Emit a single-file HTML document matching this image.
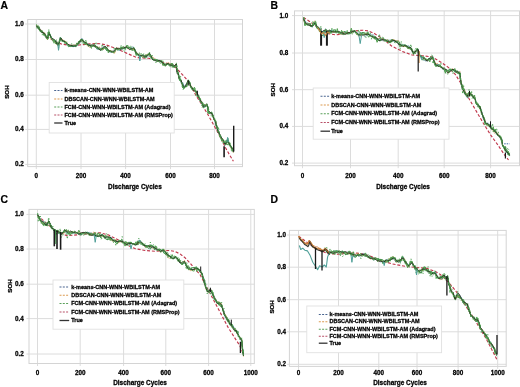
<!DOCTYPE html><html><head><meta charset="utf-8"><style>html,body{margin:0;padding:0;background:#fff;width:520px;height:387px;overflow:hidden}svg{display:block;will-change:transform;filter:blur(0.35px)}</style></head><body>
<svg width="520" height="387" viewBox="0 0 520 387" style="font-family:'Liberation Sans', sans-serif;font-weight:bold">
<rect width="520" height="387" fill="#fff"/>
<g id="pA"><line x1="36.3" y1="19.5" x2="36.3" y2="169.1" stroke="#dcdcdc" stroke-width="1"/><text x="36.3" y="177.9" font-size="6.3" text-anchor="middle" fill="#000" stroke="#000" stroke-width="0.26">0</text><line x1="81" y1="19.5" x2="81" y2="169.1" stroke="#dcdcdc" stroke-width="1"/><text x="81" y="177.9" font-size="6.3" text-anchor="middle" fill="#000" stroke="#000" stroke-width="0.26">200</text><line x1="125.6" y1="19.5" x2="125.6" y2="169.1" stroke="#dcdcdc" stroke-width="1"/><text x="125.6" y="177.9" font-size="6.3" text-anchor="middle" fill="#000" stroke="#000" stroke-width="0.26">400</text><line x1="170.5" y1="19.5" x2="170.5" y2="169.1" stroke="#dcdcdc" stroke-width="1"/><text x="170.5" y="177.9" font-size="6.3" text-anchor="middle" fill="#000" stroke="#000" stroke-width="0.26">600</text><line x1="214.5" y1="19.5" x2="214.5" y2="169.1" stroke="#dcdcdc" stroke-width="1"/><text x="214.5" y="177.9" font-size="6.3" text-anchor="middle" fill="#000" stroke="#000" stroke-width="0.26">800</text><line x1="25.2" y1="24" x2="242.5" y2="24" stroke="#dcdcdc" stroke-width="1"/><text x="23.8" y="25.9" font-size="6.3" text-anchor="end" fill="#000" stroke="#000" stroke-width="0.26">1.0</text><line x1="25.2" y1="59.5" x2="242.5" y2="59.5" stroke="#dcdcdc" stroke-width="1"/><text x="23.8" y="61.4" font-size="6.3" text-anchor="end" fill="#000" stroke="#000" stroke-width="0.26">0.8</text><line x1="25.2" y1="95.2" x2="242.5" y2="95.2" stroke="#dcdcdc" stroke-width="1"/><text x="23.8" y="97.1" font-size="6.3" text-anchor="end" fill="#000" stroke="#000" stroke-width="0.26">0.6</text><line x1="25.2" y1="129.4" x2="242.5" y2="129.4" stroke="#dcdcdc" stroke-width="1"/><text x="23.8" y="131.3" font-size="6.3" text-anchor="end" fill="#000" stroke="#000" stroke-width="0.26">0.4</text><line x1="25.2" y1="164.4" x2="242.5" y2="164.4" stroke="#dcdcdc" stroke-width="1"/><text x="23.8" y="166.3" font-size="6.3" text-anchor="end" fill="#000" stroke="#000" stroke-width="0.26">0.2</text><rect x="27.7" y="19.5" width="214.8" height="147.1" fill="none" stroke="#d4d4d4" stroke-width="1"/><path d="M36.5,25.8 L42,31.5 L48,37 L55,41.5 L62,44.2 L69,45.2 L76,45.3 L83,44.6 L90,43.9 L95,43.6 L100,43.8 L105.8,44.8 L115.2,48.2 L126,52.9 L136.7,57.6 L148.8,58.3 L156.9,60.3 L165,63 L172.1,64.4 L176.8,68.5 L182.9,75.2 L187.2,80 L191.5,87.5 L196,95.4 L201.5,104.2 L207,113 L212.5,122.8 L218,132.7 L222,140.5 L225.7,148.1 L229.5,154.8 L233.4,161.3" fill="none" stroke="#c0384c" stroke-width="1.15" stroke-linejoin="round" stroke-linecap="butt" stroke-dasharray="3,1.8"/><path d="M36.5,25.2 L37.2,26.8 L38,28 L38.7,28.1 L39.4,28.5 L40.2,29.8 L41.1,31.8 L41.9,32.1 L42.8,32.1 L43.7,32.9 L44.6,34.5 L45.5,36.8 L46.2,37.8 L46.8,38.4 L47.5,38.5 L47.8,38.1 L48,36.9 L48.3,35.5 L48.5,32.6 L48.8,31.6 L49.3,33.2 L49.8,34.6 L50.4,35.6 L50.9,36.7 L51.5,38 L52.2,39.4 L52.9,40.1 L53.5,39.8 L54.4,40.6 L55.3,40.8 L56.2,42.5 L56.9,42.4 L57.6,43.9 L58.3,44.5 L58.6,44.3 L58.9,44.8 L59.2,44 L59.4,43.3 L59.7,40.1 L60,38.9 L60.3,37.8 L61,39 L61.8,40 L62.5,40.5 L63.8,40.7 L65,41.4 L66,42.1 L67,44.6 L68,45 L69,46.6 L70,45.8 L71,46.6 L72,46.2 L73.3,46.5 L74.5,45.9 L75.8,46.6 L76.7,45.5 L77.6,44.7 L78.5,42.9 L79.3,42.1 L80.2,41.4 L81,41.7 L81.8,40.3 L82.7,41.2 L83.5,41.5 L84.3,42.7 L85.2,43.4 L86.1,43.9 L87.1,44.2 L88,44.3 L89.3,44.7 L90.6,45.9 L91.5,46.4 L92.4,46.3 L93.3,45.9 L94.2,46.3 L95.1,46.9 L96,47.3 L96.9,47.9 L97.8,49 L98.6,49.3 L99.5,49.3 L100.4,49.9 L101.3,49.7 L102.3,49.9 L103.2,48.9 L104.2,47.7 L105.1,47.8 L105.9,49.1 L106.7,50.5 L107.5,50.5 L108.3,50.6 L109.1,50.9 L110.3,50.7 L111.4,51.1 L112.6,52.2 L113.8,52.8 L114.5,51.8 L115.2,51 L115.8,49.4 L116.5,48.8 L117.7,48.9 L118.8,49.3 L120,48.2 L121.2,47.4 L122.3,47.3 L123.4,47.9 L124.4,48.7 L125.5,47.7 L126.6,47.1 L127.6,47.1 L128.6,48 L129.7,47.4 L130.7,48 L131.8,48.9 L132.9,50.3 L134,49.3 L134.4,48.9 L134.9,49.5 L135.3,52 L135.8,53.4 L136.2,54.2 L136.7,54.7 L138.1,55 L139.4,56.5 L140.5,55.7 L141.6,55.7 L142.6,55.5 L143.7,56.7 L144.8,57.5 L146,57 L147.2,55.1 L148.3,54.2 L149.5,53.4 L150.2,54.8 L150.9,56.2 L151.5,57.2 L152.2,58.6 L152.9,59.1 L154,59.6 L155.1,59.7 L156.1,60.3 L157.2,61.2 L158.3,61.4 L159.5,61.6 L160.8,61 L162,62.5 L162.8,63.9 L163.7,65.1 L164.6,64.8 L165.4,64.2 L166.7,63.8 L168,63.6 L169.1,65.3 L170.3,65.5 L171.4,65.2 L172.3,63.7 L173.2,64.9 L174.1,66 L175.1,65.7 L176.2,64.5 L176.4,64.7 L176.5,68.1 L176.7,69.5 L176.9,71.6 L177,70.9 L177.2,70.4 L177.5,71.1 L177.9,71.5 L178.2,73.9 L178.5,74 L178.8,75.3 L179.2,76.7 L179.5,79.5 L180,80.4 L180.6,80.2 L181.1,80.9 L181.7,82.9 L182.2,84.2 L182.7,84.5 L183.2,84.8 L183.7,85.8 L184.2,86.8 L184.9,86.7 L185.6,86.5 L186.2,86.8 L186.9,85.1 L187.4,83.9 L187.8,81.5 L188.3,80.6 L188.8,81 L189.4,81.6 L189.9,83 L190.5,85.2 L191,87.4 L191.7,88.6 L192.3,88.9 L193,89.1 L193.7,89.4 L194.3,89.9 L195,90.6 L195.7,90.8 L196.3,91.3 L197,92.9 L197.7,94.8 L198.3,96.3 L198.8,98 L199.4,99 L199.9,100.5 L200.5,101.4 L201,101.9 L201.5,101.7 L202.1,102.4 L202.6,103.4 L203.1,105.9 L203.6,106.6 L204.7,107 L205.8,106.3 L206.9,104.7 L207.2,105.6 L207.5,106 L207.8,107.6 L208,108.2 L208.3,109.9 L208.6,111.7 L208.9,113.4 L209.8,113 L210.6,113 L211.5,112.1 L212.3,113.5 L212.7,114.9 L213.2,116.6 L213.6,117.7 L214,118.5 L214.4,120.2 L214.8,120.6 L215.3,121.1 L215.7,121.2 L215.9,123.4 L216.2,125.3 L216.4,126.7 L216.7,127 L216.9,127.6 L217.2,128.8 L217.6,129.7 L218.1,130.7 L218.5,131.2 L219,131.9 L219.4,133.8 L219.9,135.5 L220.3,136.8 L220.8,136.9 L221.2,137.6 L221.7,138.7 L222.3,139.5 L222.9,140.5 L223.4,141.4 L224,142.3 L224.6,142.8 L225.2,143.2 L225.8,142 L226.4,141.8 L227,140.1 L227.6,139.5 L228.1,139.7 L228.5,141.5 L229,142.6 L229.4,144.3 L229.9,145.6 L230.4,146.4 L230.9,146.5 L231.4,147.3 L231.9,148.7 L232.4,149.8 L232.9,150.2 L233.4,150.3" fill="none" stroke="#3f8f48" stroke-width="1.1" stroke-linejoin="round" stroke-linecap="butt"/><path d="M36.5,25 L37.2,26 L38,27.4 L38.7,28.6 L39.4,29.7 L40.2,30.6 L41.1,31.8 L41.9,32.4 L42.8,32.8 L43.7,32.2 L44.6,33.1 L45.5,34.9 L46.2,36.9 L46.8,38.5 L47.5,40 L47.8,39.3 L48,37.9 L48.3,36.5 L48.5,34.9 L48.8,33.2 L49.3,34.1 L49.8,34.9 L50.4,36.1 L50.9,37.7 L51.5,38.9 L52.2,39.5 L52.9,39.4 L53.5,40.9 L54.4,42 L55.3,43.3 L56.2,43.5 L56.9,44.8 L57.6,45.6 L58.3,46 L58.6,44.5 L58.9,43 L59.2,42 L59.4,41.6 L59.7,41.3 L60,40 L60.3,38.8 L61,38.4 L61.8,39.1 L62.5,39.5 L63.8,40.6 L65,41.4 L66,41.4 L67,43.1 L68,44.1 L69,45.9 L70,45.7 L71,45.7 L72,45.4 L73.3,45.2 L74.5,45.6 L75.8,45.7 L76.7,45 L77.6,44.1 L78.5,43 L79.3,42.6 L80.2,41.7 L81,40.8 L81.8,39.4 L82.7,40.2 L83.5,42 L84.3,42 L85.2,43.3 L86.1,44 L87.1,45.6 L88,46.1 L89.3,47 L90.6,47.6 L91.5,46.7 L92.4,45 L93.3,44.5 L94.2,45.6 L95.1,46.9 L96,47.3 L96.9,47.7 L97.8,47 L98.6,47.7 L99.5,46.8 L100.4,48.7 L101.3,48.5 L102.3,50 L103.2,49.1 L104.2,48.3 L105.1,46.8 L105.9,46.8 L106.7,47.8 L107.5,48.6 L108.3,50.5 L109.1,50.5 L110.3,50.8 L111.4,51 L112.6,52.3 L113.8,52.7 L114.5,53.4 L115.2,51.7 L115.8,50.5 L116.5,47.9 L117.7,47.9 L118.8,48.9 L120,49.4 L121.2,49.3 L122.3,48.2 L123.4,48.1 L124.4,47.6 L125.5,47.2 L126.6,46.2 L127.6,48.4 L128.6,49.1 L129.7,49.5 L130.7,48.6 L131.8,49.1 L132.9,48.9 L134,50 L134.4,49.3 L134.9,50.3 L135.3,50 L135.8,51.3 L136.2,52.2 L136.7,53.6 L138.1,54.2 L139.4,54.3 L140.5,54.9 L141.6,56.1 L142.6,56.8 L143.7,56.5 L144.8,54.9 L146,55.4 L147.2,54.3 L148.3,54.9 L149.5,55.1 L150.2,55.9 L150.9,57 L151.5,56.3 L152.2,56.8 L152.9,57 L154,58.1 L155.1,58.8 L156.1,59.5 L157.2,60.1 L158.3,61.1 L159.5,61.2 L160.8,62.1 L162,62.7 L162.8,64.6 L163.7,64.1 L164.6,65.5 L165.4,64.8 L166.7,64 L168,62.4 L169.1,63 L170.3,64.1 L171.4,64.1 L172.3,65.3 L173.2,66.5 L174.1,67.1 L175.1,65.5 L176.2,64 L176.4,65.7 L176.5,67.8 L176.7,68.8 L176.9,69 L177,69.6 L177.2,71.2 L177.5,72.4 L177.9,74.1 L178.2,74.8 L178.5,76.3 L178.8,76.5 L179.2,78.1 L179.5,79 L180,79.7 L180.6,80.5 L181.1,81.3 L181.7,83.6 L182.2,84.4 L182.7,85.3 L183.2,85.9 L183.7,86.6 L184.2,87.5 L184.9,86.4 L185.6,86 L186.2,85.4 L186.9,84.3 L187.4,82.8 L187.8,82.1 L188.3,81.4 L188.8,83.1 L189.4,83.9 L189.9,85.8 L190.5,85.5 L191,86.3 L191.7,86.4 L192.3,88.5 L193,88.7 L193.7,88.7 L194.3,89.2 L195,91.3 L195.7,93.4 L196.3,93.7 L197,94.3 L197.7,95.4 L198.3,97.1 L198.8,97.6 L199.4,97.7 L199.9,98.1 L200.5,100.2 L201,101.3 L201.5,102.7 L202.1,102.7 L202.6,103.7 L203.1,104.4 L203.6,105.3 L204.7,104.9 L205.8,104.7 L206.9,104.9 L207.2,106.1 L207.5,107.8 L207.8,108.6 L208,109.7 L208.3,110.4 L208.6,111.1 L208.9,112.5 L209.8,112.8 L210.6,113.2 L211.5,113.9 L212.3,115.1 L212.7,116.5 L213.2,117.3 L213.6,118.4 L214,119.9 L214.4,119.8 L214.8,120.4 L215.3,120.5 L215.7,121.7 L215.9,122.3 L216.2,123.5 L216.4,125 L216.7,126 L216.9,127.7 L217.2,128.6 L217.6,129.8 L218.1,130.8 L218.5,132.2 L219,133.9 L219.4,134.7 L219.9,136.1 L220.3,136.8 L220.8,138.4 L221.2,137.9 L221.7,138.1 L222.3,139.1 L222.9,140.6 L223.4,142.2 L224,143.2 L224.6,143.6 L225.2,144.6 L225.8,143.9 L226.4,143.9 L227,142.7 L227.6,141 L228.1,141.6 L228.5,142.9 L229,144.2 L229.4,145 L229.9,145.8 L230.4,146.3 L230.9,147.7 L231.4,148.7 L231.9,149 L232.4,150.1 L232.9,151 L233.4,152.9" fill="none" stroke="#d08a40" stroke-width="0.7" stroke-linejoin="round" stroke-linecap="butt" stroke-opacity="0.85"/><path d="M36.5,26.8 L37.2,27 L38,27.1 L38.7,27.4 L39.4,29 L40.2,30.9 L41.1,31.9 L41.9,32.4 L42.8,32.8 L43.7,33.1 L44.6,34 L45.5,35 L46.2,36.7 L46.8,38 L47.5,38.5 L47.8,37.2 L48,35.8 L48.3,35.8 L48.5,35 L48.8,34.1 L49.3,33.9 L49.8,34.5 L50.4,34.6 L50.9,37.3 L51.5,37.4 L52.2,38.9 L52.9,39.8 L53.5,40.1 L54.4,41.2 L55.3,40.8 L56.2,42.3 L56.9,42.8 L57.6,44.6 L58.3,45.6 L58.6,45 L58.9,44 L59.2,42.2 L59.4,41.7 L59.7,40.2 L60,39.2 L60.3,37.1 L61,38.4 L61.8,40.3 L62.5,41 L63.8,41.3 L65,41.6 L66,43.5 L67,44.5 L68,45.7 L69,45.7 L70,45.6 L71,45.6 L72,46.5 L73.3,46.7 L74.5,46.5 L75.8,46.1 L76.7,45.6 L77.6,45 L78.5,44.2 L79.3,43.4 L80.2,41.8 L81,40.5 L81.8,38.1 L82.7,39.3 L83.5,40.5 L84.3,42.7 L85.2,42.4 L86.1,42.9 L87.1,43.1 L88,43.8 L89.3,45.1 L90.6,46.6 L91.5,46.2 L92.4,45.2 L93.3,44.8 L94.2,45.6 L95.1,46.6 L96,47.3 L96.9,49.4 L97.8,48.9 L98.6,48.2 L99.5,48 L100.4,49.8 L101.3,49.2 L102.3,48.2 L103.2,46.6 L104.2,47.1 L105.1,46.7 L105.9,48.3 L106.7,48.9 L107.5,50.6 L108.3,51.3 L109.1,52 L110.3,52.2 L111.4,52.5 L112.6,51.9 L113.8,51.3 L114.5,50.6 L115.2,50.4 L115.8,49.6 L116.5,48.4 L117.7,50 L118.8,50.3 L120,50.6 L121.2,49.4 L122.3,48.9 L123.4,48.8 L124.4,48.6 L125.5,48.5 L126.6,46.9 L127.6,47.6 L128.6,48.3 L129.7,49.4 L130.7,48 L131.8,47.4 L132.9,46.7 L134,47.6 L134.4,48.3 L134.9,49.4 L135.3,50.9 L135.8,52.1 L136.2,54 L136.7,53.9 L138.1,54.5 L139.4,55.2 L140.5,56 L141.6,56 L142.6,55.2 L143.7,55 L144.8,55.6 L146,56 L147.2,56.1 L148.3,56.1 L149.5,55.9 L150.2,56.7 L150.9,57.7 L151.5,58.5 L152.2,59.1 L152.9,59.2 L154,59.3 L155.1,59.5 L156.1,59.3 L157.2,59.8 L158.3,60.3 L159.5,61.7 L160.8,61.9 L162,62.7 L162.8,63.2 L163.7,63.9 L164.6,64.6 L165.4,64.8 L166.7,64.3 L168,64 L169.1,64.7 L170.3,65 L171.4,64.4 L172.3,65.2 L173.2,66.8 L174.1,66.8 L175.1,66.3 L176.2,64.8 L176.4,67.4 L176.5,68.5 L176.7,68.9 L176.9,70.2 L177,70.4 L177.2,71.8 L177.5,72.3 L177.9,73.6 L178.2,74.9 L178.5,75.4 L178.8,76 L179.2,77 L179.5,77.7 L180,79.9 L180.6,81.1 L181.1,83.4 L181.7,83.2 L182.2,83.1 L182.7,82.4 L183.2,83.8 L183.7,85.2 L184.2,87.5 L184.9,86 L185.6,84.9 L186.2,83.8 L186.9,83.3 L187.4,83.4 L187.8,82.8 L188.3,82.2 L188.8,82.3 L189.4,82.4 L189.9,84.3 L190.5,85.8 L191,87.3 L191.7,87.1 L192.3,88.1 L193,88.8 L193.7,89.3 L194.3,90 L195,90 L195.7,92.1 L196.3,93.3 L197,94.6 L197.7,95.1 L198.3,96.5 L198.8,97.5 L199.4,98 L199.9,99.4 L200.5,101.4 L201,102.8 L201.5,103.5 L202.1,104.1 L202.6,104.7 L203.1,106 L203.6,106.9 L204.7,106.5 L205.8,105.6 L206.9,105.2 L207.2,105.7 L207.5,107.4 L207.8,108.4 L208,110.9 L208.3,111.3 L208.6,112 L208.9,112.9 L209.8,113.2 L210.6,113.9 L211.5,113.9 L212.3,113.6 L212.7,115.1 L213.2,115.7 L213.6,117.6 L214,117.9 L214.4,119.5 L214.8,120.7 L215.3,122.5 L215.7,123.9 L215.9,124.9 L216.2,125.5 L216.4,125.9 L216.7,126.4 L216.9,127.1 L217.2,128.4 L217.6,129.5 L218.1,130 L218.5,130.6 L219,132.1 L219.4,134.7 L219.9,135.5 L220.3,135.8 L220.8,136.1 L221.2,137.3 L221.7,138.8 L222.3,139.5 L222.9,140.6 L223.4,141.2 L224,142.9 L224.6,143.9 L225.2,145.4 L225.8,143.7 L226.4,141.9 L227,140.6 L227.6,139.7 L228.1,141.9 L228.5,143.3 L229,144.2 L229.4,144.6 L229.9,144.6 L230.4,145.5 L230.9,146.6 L231.4,147.8 L231.9,148.2 L232.4,149.6 L232.9,150.3 L233.4,151.8" fill="none" stroke="#3f7f9a" stroke-width="0.7" stroke-linejoin="round" stroke-linecap="butt" stroke-opacity="0.8"/><path d="M36.5,27.3 L37.2,27.9 L38,26 L38.7,26.2 L39.4,29.3 L40.2,31.2 L41.1,30.9 L41.9,30.2 L42.8,32.2 L43.7,35.4 L44.6,32.9 L45.5,36.8 L46.2,37 L46.8,37.9 L47.5,39.1 L47.8,36.4 L48,35.8 L48.3,36.9 L48.5,33.2 L48.8,32 L49.3,31.9 L49.8,34.1 L50.4,36.6 L50.9,38.3 L51.5,38.4 L52.2,39.2 L52.9,39.9 L53.5,40.4 L54.4,42.2 L55.3,41.8 L56.2,44.2 L56.9,43.7 L57.6,42.8 L58.3,44.1 L58.6,44.3 L58.9,42.9 L59.2,41 L59.4,40.5 L59.7,40.5 L60,39.7 L60.3,39.2 L61,37.9 L61.8,40.1 L62.5,41.5 L63.8,41.4 L65,43.7 L66,42.1 L67,43.8 L68,44.9 L69,45.1 L70,45.7 L71,46.1 L72,46 L73.3,45.3 L74.5,45.2 L75.8,45.5 L76.7,42.9 L77.6,44 L78.5,41.6 L79.3,41.8 L80.2,39.9 L81,40.5 L81.8,39.1 L82.7,40 L83.5,40.3 L84.3,42.2 L85.2,44.8 L86.1,41.5 L87.1,44.9 L88,45.3 L89.3,45.2 L90.6,44.8 L91.5,47.5 L92.4,45.1 L93.3,45.4 L94.2,44.5 L95.1,44.8 L96,47.8 L96.9,48 L97.8,47.3 L98.6,48 L99.5,49.6 L100.4,48.6 L101.3,48 L102.3,48.4 L103.2,49.1 L104.2,48.4 L105.1,47 L105.9,49.2 L106.7,48.3 L107.5,48.7 L108.3,52.8 L109.1,50.3 L110.3,51.8 L111.4,52 L112.6,51.7 L113.8,52.1 L114.5,51.7 L115.2,50.7 L115.8,48.4 L116.5,48.2 L117.7,50 L118.8,49.4 L120,48.2 L121.2,48.9 L122.3,47.3 L123.4,46.5 L124.4,47 L125.5,49.1 L126.6,46.1 L127.6,45 L128.6,47.7 L129.7,47.5 L130.7,49.7 L131.8,50.1 L132.9,48 L134,48.4 L134.4,48.1 L134.9,51.4 L135.3,50.1 L135.8,51.8 L136.2,55.5 L136.7,52.5 L138.1,54.5 L139.4,54.9 L140.5,55.7 L141.6,56 L142.6,57.4 L143.7,56.5 L144.8,56.9 L146,54.5 L147.2,56 L148.3,53.7 L149.5,56.3 L150.2,55.7 L150.9,57.6 L151.5,56.7 L152.2,58.4 L152.9,59 L154,60 L155.1,59.6 L156.1,59.5 L157.2,60.2 L158.3,60.3 L159.5,60.4 L160.8,60.6 L162,60.8 L162.8,65.4 L163.7,63 L164.6,63.2 L165.4,66.3 L166.7,64.9 L168,63.9 L169.1,65.5 L170.3,66.5 L171.4,63.4 L172.3,66.7 L173.2,66.4 L174.1,67.8 L175.1,65.1 L176.2,67.1 L176.4,67.5 L176.5,64.1 L176.7,69.7 L176.9,70.8 L177,68.6 L177.2,71.6 L177.5,72.1 L177.9,73.6 L178.2,73.4 L178.5,76.2 L178.8,77.4 L179.2,77.4 L179.5,78.5 L180,77.7 L180.6,81.4 L181.1,80.3 L181.7,82.9 L182.2,83 L182.7,88 L183.2,86 L183.7,88.8 L184.2,88 L184.9,86.9 L185.6,86.8 L186.2,84.9 L186.9,86.6 L187.4,82.8 L187.8,84 L188.3,79.8 L188.8,81.1 L189.4,83.9 L189.9,82.5 L190.5,87.4 L191,86.6 L191.7,87 L192.3,89.9 L193,88.1 L193.7,88.7 L194.3,87.4 L195,89 L195.7,92 L196.3,90.9 L197,95.3 L197.7,96.6 L198.3,97 L198.8,95.6 L199.4,97.5 L199.9,97.9 L200.5,101.3 L201,102.7 L201.5,102.1 L202.1,103.4 L202.6,104.6 L203.1,106.1 L203.6,105.2 L204.7,104.6 L205.8,106.2 L206.9,105.4 L207.2,106.4 L207.5,107 L207.8,108.9 L208,109.6 L208.3,109.4 L208.6,113.2 L208.9,113.5 L209.8,112.6 L210.6,113.4 L211.5,113.4 L212.3,113.3 L212.7,114.6 L213.2,115.1 L213.6,116.9 L214,119 L214.4,119.5 L214.8,118.8 L215.3,121.2 L215.7,121.6 L215.9,122.1 L216.2,125.7 L216.4,124.2 L216.7,127.5 L216.9,125.5 L217.2,128.8 L217.6,128.9 L218.1,132 L218.5,132.5 L219,132 L219.4,134.7 L219.9,136.4 L220.3,137.4 L220.8,138.5 L221.2,137.3 L221.7,141.2 L222.3,138.9 L222.9,140.4 L223.4,139.7 L224,142.2 L224.6,141.7 L225.2,144.5 L225.8,141.3 L226.4,144.6 L227,142.3 L227.6,142.2 L228.1,142.7 L228.5,142.4 L229,143.7 L229.4,144.3 L229.9,142.8 L230.4,144.5 L230.9,146.4 L231.4,148.9 L231.9,147 L232.4,149.8 L232.9,149.8 L233.4,152.3" fill="none" stroke="#55a050" stroke-width="1.0" stroke-linejoin="round" stroke-linecap="butt"/><path d="M36.5,25.9 L37.2,26.7 L38,27.4 L38.7,28.3 L39.4,29.3 L40.2,30.7 L41.1,31.1 L41.9,32.8 L42.8,32.2 L43.7,33.5 L44.6,33.8 L45.5,35.8 L46.2,36.4 L46.8,36.9 L47.5,38.2 L47.8,37.7 L48,36.1 L48.3,34.7 L48.5,33 L48.8,32.7 L49.3,33.5 L49.8,34.9 L50.4,36 L50.9,37.1 L51.5,37.9 L52.2,38.1 L52.9,38.9 L53.5,38.9 L54.4,39.8 L55.3,40.7 L56.2,42.1 L56.9,44 L57.6,44.3 L58.3,44.7 L58.6,43 L58.9,42.9 L59.2,42.7 L59.4,41.9 L59.7,41.4 L60,40.1 L60.3,38.2 L61,38.1 L61.8,39.4 L62.5,40.7 L63.8,41.3 L65,41.7 L66,42.7 L67,43.3 L68,44.3 L69,44.8 L70,45.4 L71,45.2 L72,45.7 L73.3,45.9 L74.5,45.9 L75.8,45.8 L76.7,44.9 L77.6,44.2 L78.5,43.1 L79.3,42.2 L80.2,41 L81,40.3 L81.8,39.3 L82.7,40.8 L83.5,41.4 L84.3,42.1 L85.2,42.4 L86.1,43.1 L87.1,44 L88,45.1 L89.3,45.4 L90.6,46 L91.5,44.7 L92.4,45.3 L93.3,44.8 L94.2,46 L95.1,46 L96,46.2 L96.9,46.7 L97.8,47.4 L98.6,48.4 L99.5,49.6 L100.4,50.3 L101.3,49.5 L102.3,48.2 L103.2,47.5 L104.2,46.8 L105.1,46.3 L105.9,46.8 L106.7,48.1 L107.5,49.1 L108.3,49.9 L109.1,51.1 L110.3,51.1 L111.4,51.8 L112.6,51.2 L113.8,51.3 L114.5,49.9 L115.2,49.2 L115.8,49 L116.5,47.8 L117.7,48.6 L118.8,48.1 L120,49.3 L121.2,48.9 L122.3,48.7 L123.4,48.1 L124.4,47.5 L125.5,47.3 L126.6,46.6 L127.6,48.3 L128.6,48.4 L129.7,49.6 L130.7,49 L131.8,48.9 L132.9,47.8 L134,48.2 L134.4,49.2 L134.9,50 L135.3,50.7 L135.8,51.8 L136.2,53.3 L136.7,53.6 L138.1,54.7 L139.4,55.4 L140.5,55.8 L141.6,55.4 L142.6,55.4 L143.7,55.8 L144.8,56.5 L146,56.2 L147.2,55.9 L148.3,55 L149.5,53.7 L150.2,54.6 L150.9,55.4 L151.5,57.3 L152.2,58.6 L152.9,59.9 L154,60.2 L155.1,60.4 L156.1,61.1 L157.2,60.8 L158.3,60.5 L159.5,60.5 L160.8,61.4 L162,62 L162.8,62.9 L163.7,63.9 L164.6,64.8 L165.4,65.3 L166.7,64 L168,63.5 L169.1,64 L170.3,64.9 L171.4,65.2 L172.3,65.3 L173.2,66.1 L174.1,66 L175.1,65.5 L176.2,63.9 L176.4,65.6 L176.5,67 L176.7,68.1 L176.9,70.4 L177,71.9 L177.2,73.4 L177.5,73 L177.9,72.8 L178.2,74 L178.5,75.5 L178.8,77.3 L179.2,78.4 L179.5,79.4 L180,79.8 L180.6,79.7 L181.1,80.4 L181.7,82 L182.2,84 L182.7,85.2 L183.2,86.1 L183.7,86.7 L184.2,87.8 L184.9,87.1 L185.6,86.1 L186.2,84.6 L186.9,83.2 L187.4,82.1 L187.8,81.6 L188.3,80.4 L188.8,81.9 L189.4,82.5 L189.9,84 L190.5,85.7 L191,86.5 L191.7,87.3 L192.3,88.2 L193,89.8 L193.7,90.7 L194.3,90.9 L195,91.4 L195.7,91.8 L196.3,91.8 L197,92.6 L197.7,93.9 L198.3,96.3 L198.8,97.6 L199.4,98.3 L199.9,99.1 L200.5,99.6 L201,101.5 L201.5,101.9 L202.1,103.6 L202.6,104.2 L203.1,105.3 L203.6,106.4 L204.7,105.8 L205.8,104.6 L206.9,103.9 L207.2,104.7 L207.5,106.5 L207.8,107.5 L208,109.1 L208.3,110.4 L208.6,111 L208.9,111.6 L209.8,111.8 L210.6,112.7 L211.5,113.4 L212.3,114.7 L212.7,115.5 L213.2,117 L213.6,118.3 L214,119.6 L214.4,120.2 L214.8,120.9 L215.3,121.3 L215.7,122.3 L215.9,123.4 L216.2,124.9 L216.4,125.9 L216.7,126.4 L216.9,127 L217.2,128.6 L217.6,130.6 L218.1,132.5 L218.5,133.1 L219,133.5 L219.4,133.6 L219.9,134.2 L220.3,135.2 L220.8,136.7 L221.2,137.6 L221.7,137.9 L222.3,138.7 L222.9,139.7 L223.4,141.4 L224,142.7 L224.6,143.8 L225.2,144.2 L225.8,143.1 L226.4,142.8 L227,141.9 L227.6,140.5 L228.1,141 L228.5,142.1 L229,143.3 L229.4,144.3 L229.9,144.9 L230.4,145.5 L230.9,146.4 L231.4,147.4 L231.9,147.9 L232.4,148.9 L232.9,150.2 L233.4,151.8" fill="none" stroke="#23261a" stroke-width="0.95" stroke-linejoin="round" stroke-linecap="butt" stroke-opacity="0.9"/><path d="M36.5,24.3 L37.2,28.4 L38,25.7 L38.7,29.6 L39.4,26.9 L40.2,31.8 L41.1,30.9 L41.9,34.8 L42.8,34.5 L43.7,33.8 L44.6,34 L45.5,36.5 L46.2,36.3 L46.8,35.6 L47.5,39.4 L47.8,32.2 L48,35.8 L48.3,39 L48.5,34.7 L48.8,29.7 L49.3,35.8 L49.8,35 L50.4,34.6 L50.9,35.6 L51.5,37.9 L52.2,40.1 L52.9,39 L53.5,43.5 L54.4,39.8 L55.3,43.6 L56.2,39.9 L56.9,40 L57.6,44.5 L58.3,46.2 L58.6,48.3 L58.9,42.9 L59.2,43 L59.4,39 L59.7,40.4 L60,40.4 L60.3,37.5 L61,41 L61.8,42.4 L62.5,41.5 L63.8,40.9 L65,41.3 L66,44 L67,41.9 L68,46.7 L69,44.5 L70,46.4 L71,43.8 L72,44.2 L73.3,44.3 L74.5,46.8 L75.8,45.8 L76.7,44.9 L77.6,45.8 L78.5,41.2 L79.3,43.9 L80.2,40.1 L81,38.6 L81.8,38.5 L82.7,42.5 L83.5,44.5 L84.3,41 L85.2,40.8 L86.1,40.5 L87.1,44.4 L88,45.9 L89.3,46.5 L90.6,46.9 L91.5,48.4 L92.4,45.1 L93.3,45.1 L94.2,44.5 L95.1,43.9 L96,42.1 L96.9,47.2 L97.8,46.6 L98.6,47.3 L99.5,47.7 L100.4,49.6 L101.3,49.2 L102.3,44 L103.2,47.2 L104.2,48.2 L105.1,47.5 L105.9,47.2 L106.7,48.8 L107.5,46.1 L108.3,50.8 L109.1,50.4 L110.3,51.3 L111.4,52.7 L112.6,51.8 L113.8,49.5 L114.5,47 L115.2,49.1 L115.8,49.1 L116.5,48.6 L117.7,50.4 L118.8,49.3 L120,49.3 L121.2,45.3 L122.3,49.9 L123.4,48.3 L124.4,51.7 L125.5,48.7 L126.6,45.3 L127.6,47.5 L128.6,49.1 L129.7,46.4 L130.7,45.6 L131.8,49.5 L132.9,47.3 L134,47.8 L134.4,49.3 L134.9,49.4 L135.3,52.5 L135.8,52.4 L136.2,53.3 L136.7,55.3 L138.1,54.2 L139.4,52.4 L140.5,55.2 L141.6,52.8 L142.6,56.1 L143.7,53.6 L144.8,56.2 L146,58.4 L147.2,56.9 L148.3,53.7 L149.5,52.1 L150.2,54.8 L150.9,58.6 L151.5,58.4 L152.2,55.1 L152.9,60.6 L154,59.9 L155.1,61.2 L156.1,62.9 L157.2,59 L158.3,62.1 L159.5,61.9 L160.8,64.2 L162,61.9 L162.8,60.4 L163.7,64.2 L164.6,66.4 L165.4,64.6 L166.7,64.1 L168,64.4 L169.1,63.9 L170.3,63.5 L171.4,63.6 L172.3,68 L173.2,64.9 L174.1,66.8 L175.1,68.1 L176.2,67.3 L176.4,62.9 L176.5,65.6 L176.7,65.7 L176.9,69 L177,65.7 L177.2,68.4 L177.5,72 L177.9,74 L178.2,72.1 L178.5,75.9 L178.8,79.1 L179.2,75.7 L179.5,81.2 L180,79.6 L180.6,76.4 L181.1,82.1 L181.7,83.1 L182.2,86.8 L182.7,83.6 L183.2,89.6 L183.7,86.9 L184.2,89.1 L184.9,86.6 L185.6,87 L186.2,87.5 L186.9,83.9 L187.4,82 L187.8,83.5 L188.3,80.7 L188.8,82.8 L189.4,85.2 L189.9,84.4 L190.5,85.8 L191,86.5 L191.7,87.1 L192.3,89.5 L193,91.1 L193.7,90.2 L194.3,87 L195,88.4 L195.7,94 L196.3,96.3 L197,97 L197.7,94.5 L198.3,97 L198.8,96.5 L199.4,99.3 L199.9,99.4 L200.5,98.6 L201,102.8 L201.5,102.5 L202.1,107.7 L202.6,106.7 L203.1,102.3 L203.6,108.1 L204.7,104 L205.8,104.1 L206.9,104.5 L207.2,103.3 L207.5,113.1 L207.8,109.7 L208,107.3 L208.3,112.4 L208.6,106.7 L208.9,114.8 L209.8,113.2 L210.6,114.1 L211.5,116.2 L212.3,115.4 L212.7,117.1 L213.2,115 L213.6,118.7 L214,118.1 L214.4,120.7 L214.8,120.2 L215.3,122.4 L215.7,121.4 L215.9,120.9 L216.2,123 L216.4,127.4 L216.7,126.1 L216.9,127.8 L217.2,128 L217.6,131.6 L218.1,129.4 L218.5,126.9 L219,131.7 L219.4,132.8 L219.9,137.4 L220.3,134.3 L220.8,135.8 L221.2,138.9 L221.7,140.3 L222.3,139 L222.9,143.2 L223.4,140.8 L224,142.9 L224.6,141.8 L225.2,140.2 L225.8,142.1 L226.4,141.2 L227,139.7 L227.6,145.1 L228.1,138.2 L228.5,143.3 L229,146.4 L229.4,145.7 L229.9,146.2 L230.4,144.9 L230.9,145.8 L231.4,150.5 L231.9,152 L232.4,148.5 L232.9,151.5 L233.4,151.5" fill="none" stroke="#4aa050" stroke-width="1.0" stroke-linejoin="round" stroke-linecap="butt" stroke-dasharray="1.6,1.8" stroke-opacity="0.9"/><path d="M57.8,44.5 L58.5,50.3 L59.3,45" fill="none" stroke="#4f9f98" stroke-width="1.0" stroke-linejoin="round" stroke-linecap="butt"/><path d="M139.2,55 L139.8,61 L140.5,56" fill="none" stroke="#4f9f98" stroke-width="1.0" stroke-linejoin="round" stroke-linecap="butt"/><path d="M226.8,142.5 L227.6,137.4 L228.5,142" fill="none" stroke="#4f9f98" stroke-width="1.0" stroke-linejoin="round" stroke-linecap="butt"/><path d="M188.3,80.8 L188.3,85.5" fill="none" stroke="#1a1a1a" stroke-width="1.0" stroke-linejoin="round" stroke-linecap="butt"/><path d="M197.4,90.7 L197.4,95.5" fill="none" stroke="#1a1a1a" stroke-width="1.0" stroke-linejoin="round" stroke-linecap="butt"/><path d="M233.7,125.8 L233.7,151.4" fill="none" stroke="#1a1a1a" stroke-width="1.4" stroke-linejoin="round" stroke-linecap="butt"/><path d="M224.1,146.2 L224.1,157.2" fill="none" stroke="#1a1a1a" stroke-width="1.6" stroke-linejoin="round" stroke-linecap="butt"/><rect x="49.2" y="82.5" width="125" height="50.5" fill="#fff" stroke="#e0e0e0" stroke-width="0.9"/><line x1="54.2" y1="90.5" x2="62.5" y2="90.5" stroke="#4a6590" stroke-width="1.1" stroke-dasharray="2,1.3"/><text x="64.5" y="92.1" font-size="5.5" fill="#000" stroke="#000" stroke-width="0.26">k-means-CNN-WNN-WBILSTM-AM</text><line x1="54.2" y1="99" x2="62.5" y2="99" stroke="#dc9a50" stroke-width="1.1" stroke-dasharray="2,1.3"/><text x="64.5" y="100.6" font-size="5.5" fill="#000" stroke="#000" stroke-width="0.26">DBSCAN-CNN-WNN-WBILSTM-AM</text><line x1="54.2" y1="107" x2="62.5" y2="107" stroke="#5aa05a" stroke-width="1.1" stroke-dasharray="2,1.3"/><text x="64.5" y="108.6" font-size="5.5" fill="#000" stroke="#000" stroke-width="0.26">FCM-CNN-WNN-WBILSTM-AM (Adagrad)</text><line x1="54.2" y1="115" x2="62.5" y2="115" stroke="#b85068" stroke-width="1.1" stroke-dasharray="2,1.3"/><text x="64.5" y="116.6" font-size="5.5" fill="#000" stroke="#000" stroke-width="0.26">FCM-CNN-WNN-WBILSTM-AM (RMSProp)</text><line x1="54.2" y1="123" x2="62.5" y2="123" stroke="#333" stroke-width="1.3"/><text x="64.5" y="124.6" font-size="5.5" fill="#000" stroke="#000" stroke-width="0.26">True</text><text transform="translate(9.4,92.1) rotate(-90)" font-size="6.2" text-anchor="middle" fill="#000" stroke="#000" stroke-width="0.26">SOH</text><text x="134.9" y="188.9" font-size="6.45" text-anchor="middle" fill="#000" stroke="#000" stroke-width="0.26">Discharge Cycles</text><text x="0.6" y="9.2" font-size="10.4" fill="#000" stroke="#000" stroke-width="0.2">A</text></g>
<g id="pB"><line x1="302.5" y1="10.9" x2="302.5" y2="168.2" stroke="#dcdcdc" stroke-width="1"/><text x="302.5" y="177.9" font-size="6.3" text-anchor="middle" fill="#000" stroke="#000" stroke-width="0.26">0</text><line x1="350.5" y1="10.9" x2="350.5" y2="168.2" stroke="#dcdcdc" stroke-width="1"/><text x="350.5" y="177.9" font-size="6.3" text-anchor="middle" fill="#000" stroke="#000" stroke-width="0.26">200</text><line x1="398.2" y1="10.9" x2="398.2" y2="168.2" stroke="#dcdcdc" stroke-width="1"/><text x="398.2" y="177.9" font-size="6.3" text-anchor="middle" fill="#000" stroke="#000" stroke-width="0.26">400</text><line x1="444.2" y1="10.9" x2="444.2" y2="168.2" stroke="#dcdcdc" stroke-width="1"/><text x="444.2" y="177.9" font-size="6.3" text-anchor="middle" fill="#000" stroke="#000" stroke-width="0.26">600</text><line x1="490.6" y1="10.9" x2="490.6" y2="168.2" stroke="#dcdcdc" stroke-width="1"/><text x="490.6" y="177.9" font-size="6.3" text-anchor="middle" fill="#000" stroke="#000" stroke-width="0.26">800</text><line x1="292" y1="15.6" x2="519.5" y2="15.6" stroke="#dcdcdc" stroke-width="1"/><text x="288.3" y="17.5" font-size="6.3" text-anchor="end" fill="#000" stroke="#000" stroke-width="0.26">1.0</text><line x1="292" y1="53" x2="519.5" y2="53" stroke="#dcdcdc" stroke-width="1"/><text x="288.3" y="54.9" font-size="6.3" text-anchor="end" fill="#000" stroke="#000" stroke-width="0.26">0.8</text><line x1="292" y1="89.7" x2="519.5" y2="89.7" stroke="#dcdcdc" stroke-width="1"/><text x="288.3" y="91.6" font-size="6.3" text-anchor="end" fill="#000" stroke="#000" stroke-width="0.26">0.6</text><line x1="292" y1="126.4" x2="519.5" y2="126.4" stroke="#dcdcdc" stroke-width="1"/><text x="288.3" y="128.3" font-size="6.3" text-anchor="end" fill="#000" stroke="#000" stroke-width="0.26">0.4</text><line x1="292" y1="163.1" x2="519.5" y2="163.1" stroke="#dcdcdc" stroke-width="1"/><text x="288.3" y="165" font-size="6.3" text-anchor="end" fill="#000" stroke="#000" stroke-width="0.26">0.2</text><rect x="294.5" y="10.9" width="225" height="154.8" fill="none" stroke="#d4d4d4" stroke-width="1"/><path d="M303.4,17.4 L307.5,20 L311.5,22.8 L319.5,28.8 L327.6,33.6 L335.7,34.9 L345.1,33.6 L354.5,30.9 L362.6,30.2 L368,30.9 L374.4,33.5 L383.8,39.5 L391.9,46.2 L402.7,51.6 L412.1,55 L421.5,55.7 L431.9,56.8 L441,62.2 L448.3,67.4 L455.5,74.7 L460.7,83 L465.9,93.3 L473.1,105.7 L476.4,111.4 L483.5,123.5 L490.6,134.9 L497.8,144.9 L504.9,155.5 L508.5,160" fill="none" stroke="#c0384c" stroke-width="1.15" stroke-linejoin="round" stroke-linecap="butt" stroke-dasharray="3,1.8"/><path d="M303.4,19.8 L303.9,20.1 L304.4,20.4 L304.9,21.1 L305.4,23.4 L306.5,24.4 L307.7,24.2 L308.8,23.4 L309.9,23.9 L311,25.6 L312.1,26.6 L312.8,25.7 L313.5,24.3 L314.1,23.5 L314.8,22.5 L315.3,23.6 L315.8,24.6 L316.3,26.7 L316.8,27.7 L317.6,28.7 L318.5,28.1 L319.4,29.2 L320.2,29.5 L320.9,30.7 L321.5,31.2 L322.2,32.4 L323.3,31.8 L324.5,31.6 L325.6,31.3 L326.7,32.6 L327.9,33.3 L329,32.4 L330,31.7 L331,30.5 L332,31.4 L333,31.1 L334.1,31.8 L335.2,31.8 L336.2,31.8 L337.3,32 L338.4,31.7 L339.5,33.2 L340.6,33.2 L341.6,33.8 L342.7,32.4 L343.8,32.2 L344.9,31.6 L345.9,32.7 L347,33.6 L348,33.9 L349.1,33.1 L350.2,33.4 L351.3,32.5 L352.3,32.1 L353.4,31.2 L354.5,30.9 L355.5,32.1 L356.6,33 L357.6,34.1 L358.6,34.8 L359.6,34.6 L360.6,34.5 L361.6,33 L362.6,32.6 L363.7,32.7 L364.8,33.1 L365.8,33.2 L366.9,33 L368,34.1 L368.8,34.6 L369.6,35.1 L370.4,35.5 L371.4,36.7 L372.3,36.7 L373.3,37.8 L374.2,37.6 L375.2,39.1 L376.1,38.5 L377.1,39.4 L378.2,39.9 L379.3,40.6 L380.5,40.7 L381.6,39.7 L382.7,39.3 L383.8,38.8 L384.9,40.5 L386,40.3 L387,40.1 L388.1,40.1 L389.2,41.7 L390.3,42.3 L391.5,41.5 L392.6,40.1 L393.8,40.3 L395,40.5 L396.1,41.4 L397.3,41.8 L398,43.1 L398.6,44 L399.3,45.1 L400,44.5 L400.6,45 L401.3,45.6 L402.4,46 L403.5,46.2 L404.5,46 L405.6,46 L406.7,45.9 L407.5,47 L408.3,48.6 L409.2,48 L410,48.5 L410.8,47.6 L411.5,49.2 L412.1,51.3 L412.8,52 L413.5,52.8 L414.4,51.3 L415.2,51.5 L416.1,51.5 L416.9,49.8 L417.8,49.6 L418.1,49.7 L418.5,50.9 L418.8,51.7 L419.1,53.4 L419.5,54.7 L419.8,55 L420.6,55.4 L421.4,56.4 L422.2,57.3 L423,57.6 L423.8,57.2 L424.8,58.4 L425.9,59.5 L426.9,60.5 L427.9,59.7 L428.8,58.6 L429.8,58.3 L430.7,57.4 L431.7,57.7 L432.6,57.4 L433,59.2 L433.5,59.6 L433.9,60.4 L434.3,62 L434.7,62.8 L435.1,64.2 L435.6,65.4 L436,66.1 L437,65.6 L438,64.8 L439,65.2 L440,65.4 L440.9,66.5 L441.8,67.4 L442.7,68.7 L443.6,68.7 L444.5,69.6 L445.4,69.8 L446.3,70.8 L447.2,70.6 L448.1,70.4 L449,70 L450,68.9 L450.9,69.8 L451.9,69.2 L452.8,70.2 L453.8,70.6 L454.8,71.6 L455.8,72.2 L456.8,72.6 L457.9,73.4 L459,73.2 L460.1,73.8 L460.1,73.8 L460.2,75.1 L460.2,76.3 L460.3,77.4 L460.3,77.6 L460.5,78.4 L460.7,79.9 L460.9,81.6 L461,82.3 L461.2,82.8 L461.4,83.9 L461.8,84.1 L462.2,85.1 L462.6,86.9 L462.9,88.4 L463.3,89.6 L463.7,90.6 L464.1,92.5 L464.8,94 L465.5,94.1 L466.1,94.1 L466.8,95.9 L467.5,97.1 L468,96.9 L468.5,95.4 L469,94.7 L469.5,93.7 L470.2,93.3 L470.9,93.7 L471.6,94.4 L472.2,95.5 L472.9,96 L473.6,96.4 L474.2,96 L474.6,97.1 L475,98.7 L475.4,100.2 L475.7,101.5 L476.1,102.3 L476.5,103.5 L476.9,104.6 L477.6,104.9 L478.3,104.8 L478.9,105.6 L479.6,106.8 L480.3,108.4 L480.6,108.6 L481,109.3 L481.4,110.5 L481.7,112.6 L482.1,113.8 L482.4,114.3 L482.8,115.7 L483.1,116.9 L483.5,117.3 L483.8,117.1 L484.2,118.1 L484.5,118.8 L484.9,120.2 L485.2,120.9 L485.6,122.7 L486.6,124.3 L487.5,124.8 L488.5,125.5 L489.2,125.7 L489.8,125.9 L490.5,126.3 L491.1,126.5 L491.8,128.2 L492.6,129.3 L493.3,129.8 L494.1,130.9 L494.9,131.1 L495.6,132.1 L496.4,132.3 L497.2,134.3 L498,135.1 L498.7,135.8 L499.5,136.4 L500.3,137.9 L500.7,139.3 L501.1,139.1 L501.5,139 L501.9,140.6 L502.1,141.9 L502.2,143.1 L502.4,144.1 L502.6,145.2 L503.3,146.5 L504,147.9 L504.6,149.4 L505.3,150.9 L506,151.2 L506.6,152.3 L507.2,152.5 L507.8,153.7 L508.4,154.5 L509,155.2 L509.6,155.8" fill="none" stroke="#3f8f48" stroke-width="1.1" stroke-linejoin="round" stroke-linecap="butt"/><path d="M303.4,18.6 L303.9,21.3 L304.4,22.4 L304.9,23.7 L305.4,23.4 L306.5,23.3 L307.7,23.3 L308.8,23.8 L309.9,24.5 L311,25.9 L312.1,26.3 L312.8,24.8 L313.5,22.9 L314.1,21.7 L314.8,20.8 L315.3,22.4 L315.8,23.6 L316.3,26.1 L316.8,26.7 L317.6,27.4 L318.5,27.9 L319.4,29.4 L320.2,29.6 L320.9,31 L321.5,31.2 L322.2,33.2 L323.3,31.7 L324.5,31.1 L325.6,29.2 L326.7,29.8 L327.9,31.6 L329,32.3 L330,33 L331,32.3 L332,32.3 L333,31.9 L334.1,32.2 L335.2,32.5 L336.2,32 L337.3,32.1 L338.4,32.7 L339.5,34.2 L340.6,34.2 L341.6,33.7 L342.7,32.9 L343.8,32.4 L344.9,33.2 L345.9,33.5 L347,33.7 L348,32.8 L349.1,32.7 L350.2,32.4 L351.3,33.2 L352.3,32 L353.4,31.8 L354.5,30.6 L355.5,31.3 L356.6,33.4 L357.6,35.2 L358.6,36.1 L359.6,35.3 L360.6,33.8 L361.6,34.9 L362.6,35.2 L363.7,35.6 L364.8,34.6 L365.8,33.9 L366.9,34 L368,33.8 L368.8,34.1 L369.6,34.6 L370.4,35.5 L371.4,36.6 L372.3,37.2 L373.3,37.9 L374.2,37 L375.2,37.2 L376.1,37.2 L377.1,38.2 L378.2,38.5 L379.3,38.8 L380.5,38.6 L381.6,39.3 L382.7,40.1 L383.8,40.9 L384.9,41 L386,40.3 L387,40.2 L388.1,40.1 L389.2,41.6 L390.3,41.7 L391.5,40.6 L392.6,39.5 L393.8,39.6 L395,40.4 L396.1,40.7 L397.3,40.5 L398,40.8 L398.6,40.7 L399.3,42.8 L400,44.5 L400.6,45.7 L401.3,45.7 L402.4,45.8 L403.5,46.6 L404.5,46.5 L405.6,46.2 L406.7,46.6 L407.5,47.9 L408.3,48.3 L409.2,47.9 L410,48.4 L410.8,49.5 L411.5,50.4 L412.1,51 L412.8,51.5 L413.5,52.5 L414.4,51.7 L415.2,51.2 L416.1,50 L416.9,50.3 L417.8,50.4 L418.1,51.4 L418.5,52.3 L418.8,52.6 L419.1,54.1 L419.5,54.6 L419.8,55.6 L420.6,56.7 L421.4,56.9 L422.2,57.9 L423,58 L423.8,58.7 L424.8,58.7 L425.9,59.7 L426.9,60.7 L427.9,61.4 L428.8,60.2 L429.8,59.3 L430.7,59 L431.7,58 L432.6,58.1 L433,58.7 L433.5,59.9 L433.9,60.3 L434.3,60.9 L434.7,61.9 L435.1,62.9 L435.6,63.9 L436,63.9 L437,63.3 L438,63.8 L439,64.8 L440,65.9 L440.9,66.3 L441.8,66.8 L442.7,68.5 L443.6,69.1 L444.5,70.1 L445.4,69.4 L446.3,70.4 L447.2,71.4 L448.1,73.2 L449,72.7 L450,71.4 L450.9,69.5 L451.9,69.2 L452.8,68.7 L453.8,69.9 L454.8,69.9 L455.8,71.1 L456.8,72.1 L457.9,72.2 L459,72.1 L460.1,71.4 L460.1,73.2 L460.2,74.5 L460.2,75.5 L460.3,76.8 L460.3,77.9 L460.5,79.3 L460.7,79.7 L460.9,80.6 L461,82.2 L461.2,83.6 L461.4,84.8 L461.8,85.9 L462.2,85.5 L462.6,86.5 L462.9,87.6 L463.3,90.3 L463.7,91.8 L464.1,91.9 L464.8,91.6 L465.5,92 L466.1,94.5 L466.8,96.4 L467.5,97.2 L468,94.3 L468.5,93.3 L469,92.6 L469.5,92.7 L470.2,93.5 L470.9,93.5 L471.6,94 L472.2,95.2 L472.9,96.9 L473.6,97.2 L474.2,95.6 L474.6,96.2 L475,98.7 L475.4,100.9 L475.7,102.2 L476.1,102.8 L476.5,102.6 L476.9,103.6 L477.6,103.5 L478.3,104.9 L478.9,106.4 L479.6,108.7 L480.3,110.1 L480.6,110.8 L481,111 L481.4,111.7 L481.7,113 L482.1,113.5 L482.4,114.7 L482.8,115.7 L483.1,117.6 L483.5,118 L483.8,119 L484.2,119.7 L484.5,120.7 L484.9,120.5 L485.2,121.1 L485.6,122.9 L486.6,124 L487.5,125.6 L488.5,125.8 L489.2,126.3 L489.8,126 L490.5,126.7 L491.1,128 L491.8,128.7 L492.6,129.5 L493.3,131.4 L494.1,132.7 L494.9,133.4 L495.6,132.5 L496.4,132 L497.2,132.7 L498,133.6 L498.7,135.2 L499.5,135.6 L500.3,136.9 L500.7,138.4 L501.1,139.4 L501.5,139.3 L501.9,139.9 L502.1,142.1 L502.2,144.1 L502.4,145.3 L502.6,145.1 L503.3,145.6 L504,146.6 L504.6,148.4 L505.3,149.6 L506,150.5 L506.6,151.6 L507.2,152.6 L507.8,152.9 L508.4,152.7 L509,153.6 L509.6,154.6" fill="none" stroke="#d08a40" stroke-width="0.7" stroke-linejoin="round" stroke-linecap="butt" stroke-opacity="0.85"/><path d="M303.4,19 L303.9,20.1 L304.4,20.1 L304.9,21.3 L305.4,22 L306.5,22.3 L307.7,23.1 L308.8,24 L309.9,25.4 L311,26.2 L312.1,27.3 L312.8,26.1 L313.5,25.2 L314.1,23.8 L314.8,22.2 L315.3,22.4 L315.8,23.5 L316.3,24.9 L316.8,26.8 L317.6,27.6 L318.5,27.8 L319.4,28 L320.2,28 L320.9,29.9 L321.5,31.1 L322.2,32.6 L323.3,31 L324.5,29.8 L325.6,28.8 L326.7,29.6 L327.9,30.9 L329,30.9 L330,30.9 L331,30.2 L332,30.5 L333,30 L334.1,30.5 L335.2,31.2 L336.2,32 L337.3,32.6 L338.4,32.4 L339.5,32.5 L340.6,32.8 L341.6,33.7 L342.7,33.9 L343.8,33.3 L344.9,32.4 L345.9,31.9 L347,33 L348,33.1 L349.1,33.6 L350.2,33 L351.3,32.2 L352.3,31.6 L353.4,31.4 L354.5,31.9 L355.5,31.8 L356.6,32.5 L357.6,32.7 L358.6,33.1 L359.6,32.8 L360.6,32.3 L361.6,32.9 L362.6,34 L363.7,35.8 L364.8,36.6 L365.8,35.8 L366.9,35.3 L368,34.7 L368.8,34.9 L369.6,33.8 L370.4,34.9 L371.4,34.7 L372.3,34.9 L373.3,34.6 L374.2,36 L375.2,37.3 L376.1,38.4 L377.1,38.7 L378.2,39.5 L379.3,39.4 L380.5,39.4 L381.6,39.7 L382.7,40.8 L383.8,40.8 L384.9,41.1 L386,40.5 L387,41 L388.1,41.1 L389.2,40.3 L390.3,40 L391.5,39.6 L392.6,40.4 L393.8,41.4 L395,41.5 L396.1,40.7 L397.3,41.5 L398,43 L398.6,43.4 L399.3,43.1 L400,43.1 L400.6,44.5 L401.3,44.6 L402.4,44.7 L403.5,44.7 L404.5,45.2 L405.6,45.8 L406.7,46 L407.5,46.2 L408.3,45.6 L409.2,45.9 L410,47.7 L410.8,49.6 L411.5,50.4 L412.1,51.3 L412.8,52 L413.5,52.9 L414.4,51.9 L415.2,51.1 L416.1,50.2 L416.9,49.2 L417.8,48.7 L418.1,50.8 L418.5,51.6 L418.8,52.6 L419.1,53.1 L419.5,54.5 L419.8,54.9 L420.6,56.1 L421.4,57.4 L422.2,59.4 L423,59.7 L423.8,60.4 L424.8,60.4 L425.9,61.2 L426.9,60.9 L427.9,61.3 L428.8,60 L429.8,59 L430.7,58 L431.7,56.9 L432.6,56.2 L433,57.2 L433.5,58.3 L433.9,60.7 L434.3,62.7 L434.7,64.4 L435.1,64.7 L435.6,64.4 L436,65 L437,64.2 L438,64.7 L439,64.6 L440,65.5 L440.9,66.9 L441.8,67.4 L442.7,69.4 L443.6,69.3 L444.5,70.7 L445.4,69.3 L446.3,70.6 L447.2,70.1 L448.1,71.5 L449,70.5 L450,71 L450.9,70.6 L451.9,70.3 L452.8,69.3 L453.8,70.6 L454.8,70.9 L455.8,71.6 L456.8,71.1 L457.9,71.9 L459,71.9 L460.1,72.4 L460.1,73.6 L460.2,74.8 L460.2,76.2 L460.3,76.7 L460.3,78.7 L460.5,79.5 L460.7,81.7 L460.9,82.4 L461,83.5 L461.2,84.3 L461.4,85.7 L461.8,87.4 L462.2,88.6 L462.6,89.4 L462.9,89.1 L463.3,89.9 L463.7,90.4 L464.1,92.1 L464.8,93.2 L465.5,93.8 L466.1,95.2 L466.8,96.6 L467.5,98.2 L468,96.5 L468.5,95.1 L469,94 L469.5,93.7 L470.2,94.5 L470.9,94.5 L471.6,95.1 L472.2,94.6 L472.9,95.8 L473.6,96.8 L474.2,96.3 L474.6,97.2 L475,97.7 L475.4,99.3 L475.7,100.8 L476.1,102.2 L476.5,102.7 L476.9,103.2 L477.6,104.1 L478.3,104.9 L478.9,105.8 L479.6,106.9 L480.3,107.9 L480.6,109 L481,110.3 L481.4,111.7 L481.7,112.2 L482.1,112.3 L482.4,114.2 L482.8,117.6 L483.1,118.8 L483.5,119.2 L483.8,119.2 L484.2,120.5 L484.5,120.2 L484.9,121.4 L485.2,122.3 L485.6,124 L486.6,123.1 L487.5,123 L488.5,123.3 L489.2,124.7 L489.8,125.9 L490.5,126.5 L491.1,127.9 L491.8,128.8 L492.6,129.2 L493.3,129.2 L494.1,129.9 L494.9,131 L495.6,132.7 L496.4,133 L497.2,134.1 L498,134.6 L498.7,135.1 L499.5,136.3 L500.3,136.7 L500.7,137.9 L501.1,137.9 L501.5,138.2 L501.9,138.9 L502.1,141.1 L502.2,142.9 L502.4,144.6 L502.6,145.1 L503.3,146.4 L504,147.1 L504.6,147.9 L505.3,148.7 L506,150.4 L506.6,151.6 L507.2,153.1 L507.8,153.4 L508.4,154.1 L509,153.5 L509.6,154.1" fill="none" stroke="#3f7f9a" stroke-width="0.7" stroke-linejoin="round" stroke-linecap="butt" stroke-opacity="0.8"/><path d="M303.4,17.8 L303.9,17.2 L304.4,22.3 L304.9,25.6 L305.4,23.4 L306.5,24.9 L307.7,25.4 L308.8,25.2 L309.9,25.9 L311,27 L312.1,25.9 L312.8,23.3 L313.5,22.3 L314.1,24.5 L314.8,23.4 L315.3,23.8 L315.8,21.8 L316.3,25.5 L316.8,26.7 L317.6,26.2 L318.5,27.2 L319.4,31.6 L320.2,31.2 L320.9,31.4 L321.5,31.7 L322.2,31.6 L323.3,31.1 L324.5,31.8 L325.6,29.1 L326.7,30.3 L327.9,33.2 L329,29.8 L330,30.3 L331,33.5 L332,31.5 L333,31.1 L334.1,30.1 L335.2,29.6 L336.2,33.2 L337.3,28.6 L338.4,32.8 L339.5,31.8 L340.6,32.6 L341.6,30.3 L342.7,34.5 L343.8,34.4 L344.9,33.8 L345.9,33.9 L347,31.4 L348,33.3 L349.1,33.5 L350.2,32.5 L351.3,28.2 L352.3,31.9 L353.4,31.9 L354.5,30 L355.5,32.3 L356.6,34.5 L357.6,33.4 L358.6,35.9 L359.6,33.7 L360.6,33.6 L361.6,35.1 L362.6,33.7 L363.7,32.4 L364.8,34.8 L365.8,34.1 L366.9,34.6 L368,32.5 L368.8,33.9 L369.6,36 L370.4,35.6 L371.4,36.3 L372.3,37.2 L373.3,36.3 L374.2,38 L375.2,36.1 L376.1,39.1 L377.1,42.3 L378.2,39.9 L379.3,38.7 L380.5,37.4 L381.6,38.2 L382.7,39.6 L383.8,39.2 L384.9,41.1 L386,40.9 L387,42 L388.1,40.9 L389.2,42.5 L390.3,42.9 L391.5,39.5 L392.6,40.1 L393.8,40.4 L395,40.7 L396.1,42.7 L397.3,41.1 L398,41.1 L398.6,41.3 L399.3,41.9 L400,44.5 L400.6,46.6 L401.3,46.3 L402.4,45 L403.5,45.7 L404.5,44.7 L405.6,47 L406.7,45.8 L407.5,48.2 L408.3,47.8 L409.2,48.4 L410,47 L410.8,49.6 L411.5,49.3 L412.1,50 L412.8,51.8 L413.5,54.6 L414.4,52.6 L415.2,53.9 L416.1,51.5 L416.9,48.3 L417.8,48.7 L418.1,52.9 L418.5,52.2 L418.8,52.6 L419.1,52.9 L419.5,54.8 L419.8,56.1 L420.6,55.7 L421.4,56.8 L422.2,57.9 L423,56.8 L423.8,58.5 L424.8,58.4 L425.9,59.1 L426.9,59.3 L427.9,60.2 L428.8,59.2 L429.8,61.9 L430.7,58.7 L431.7,58.7 L432.6,56.5 L433,58.7 L433.5,60 L433.9,62.4 L434.3,63.5 L434.7,61.6 L435.1,65.4 L435.6,64.2 L436,66.6 L437,65.2 L438,66.6 L439,65.9 L440,64.6 L440.9,67.7 L441.8,67.3 L442.7,68.2 L443.6,69.3 L444.5,70.2 L445.4,73.2 L446.3,69.2 L447.2,70.5 L448.1,70.5 L449,72.8 L450,70.3 L450.9,69.3 L451.9,70.1 L452.8,69.1 L453.8,70.4 L454.8,68.5 L455.8,71.1 L456.8,72.5 L457.9,71.4 L459,74.2 L460.1,73 L460.1,73.1 L460.2,74.6 L460.2,76.8 L460.3,78.5 L460.3,77.6 L460.5,80 L460.7,80 L460.9,80.4 L461,81.4 L461.2,84.7 L461.4,84.3 L461.8,86.1 L462.2,88.9 L462.6,89 L462.9,88.2 L463.3,89.3 L463.7,91 L464.1,88.9 L464.8,93.4 L465.5,92.6 L466.1,95.3 L466.8,94.4 L467.5,95.9 L468,96.4 L468.5,95.3 L469,95.8 L469.5,92 L470.2,92.7 L470.9,96.2 L471.6,95.8 L472.2,94.5 L472.9,96.2 L473.6,98.2 L474.2,96.4 L474.6,96.1 L475,99 L475.4,100.4 L475.7,102.4 L476.1,103.2 L476.5,103.7 L476.9,102.6 L477.6,103.1 L478.3,104.3 L478.9,107.3 L479.6,108.7 L480.3,106.1 L480.6,110.3 L481,111.8 L481.4,113.7 L481.7,113.8 L482.1,115.1 L482.4,115.1 L482.8,115.4 L483.1,116.6 L483.5,117.7 L483.8,117.3 L484.2,119.6 L484.5,122 L484.9,121.3 L485.2,124.3 L485.6,122.6 L486.6,124.5 L487.5,123.3 L488.5,125.9 L489.2,126.2 L489.8,127.3 L490.5,127.9 L491.1,128.2 L491.8,129.8 L492.6,129.4 L493.3,126.8 L494.1,130.8 L494.9,132.1 L495.6,129.3 L496.4,134.4 L497.2,133.6 L498,135.8 L498.7,134.9 L499.5,136.3 L500.3,135.8 L500.7,137.5 L501.1,136.8 L501.5,140.1 L501.9,140.3 L502.1,141.1 L502.2,142.1 L502.4,143 L502.6,145.3 L503.3,146.1 L504,146.8 L504.6,149.9 L505.3,147.7 L506,149.5 L506.6,149.3 L507.2,151.5 L507.8,152.5 L508.4,151.3 L509,155 L509.6,152.8" fill="none" stroke="#55a050" stroke-width="1.0" stroke-linejoin="round" stroke-linecap="butt"/><path d="M303.4,18.3 L303.9,19.5 L304.4,21 L304.9,21.9 L305.4,22.6 L306.5,24 L307.7,24.3 L308.8,25.1 L309.9,25.3 L311,25.4 L312.1,26.3 L312.8,25.5 L313.5,25.4 L314.1,24.6 L314.8,23 L315.3,23.8 L315.8,24.1 L316.3,25.6 L316.8,26.3 L317.6,27.1 L318.5,28 L319.4,29.6 L320.2,31 L320.9,31.6 L321.5,31.6 L322.2,31.7 L323.3,30.9 L324.5,30.5 L325.6,30.3 L326.7,30.8 L327.9,31.2 L329,31 L330,30.9 L331,31.1 L332,31.9 L333,32.1 L334.1,31.9 L335.2,31.8 L336.2,31.6 L337.3,31.4 L338.4,31.8 L339.5,31.9 L340.6,32.8 L341.6,32.5 L342.7,33.1 L343.8,33.8 L344.9,34.2 L345.9,34.1 L347,33.5 L348,32.6 L349.1,32.8 L350.2,32.2 L351.3,32.2 L352.3,31.3 L353.4,31.3 L354.5,31.1 L355.5,31.8 L356.6,32.6 L357.6,33.5 L358.6,34.9 L359.6,35.1 L360.6,35.7 L361.6,35 L362.6,35 L363.7,34.5 L364.8,34.9 L365.8,34.5 L366.9,34.3 L368,34.1 L368.8,34.8 L369.6,35.1 L370.4,35.3 L371.4,36.1 L372.3,36.4 L373.3,37 L374.2,37.2 L375.2,37.6 L376.1,37.3 L377.1,38.6 L378.2,39.6 L379.3,40.8 L380.5,39.8 L381.6,39.9 L382.7,39.6 L383.8,40 L384.9,39.7 L386,40 L387,41.2 L388.1,41.7 L389.2,42.1 L390.3,41.3 L391.5,41 L392.6,40.1 L393.8,40.7 L395,40.9 L396.1,42 L397.3,42.5 L398,43.1 L398.6,44.3 L399.3,44.4 L400,45.2 L400.6,44.5 L401.3,45.9 L402.4,45.8 L403.5,46.2 L404.5,45.4 L405.6,45.6 L406.7,46 L407.5,47.1 L408.3,47.5 L409.2,47.5 L410,47.3 L410.8,47.8 L411.5,49.1 L412.1,50.5 L412.8,52.3 L413.5,53.4 L414.4,52.8 L415.2,51.7 L416.1,50.8 L416.9,50 L417.8,49.1 L418.1,49.6 L418.5,50.7 L418.8,52.2 L419.1,53.6 L419.5,55.3 L419.8,55.9 L420.6,56.9 L421.4,57.2 L422.2,57.7 L423,57.7 L423.8,58.4 L424.8,59.4 L425.9,60.3 L426.9,60.6 L427.9,59.9 L428.8,59 L429.8,58.7 L430.7,59.3 L431.7,59 L432.6,57.7 L433,58.6 L433.5,59.3 L433.9,60.8 L434.3,61.9 L434.7,62.6 L435.1,63.2 L435.6,63.7 L436,65.1 L437,65.5 L438,66 L439,66.5 L440,66.6 L440.9,67 L441.8,67.8 L442.7,68.3 L443.6,68.7 L444.5,68.2 L445.4,68.8 L446.3,70.2 L447.2,72.2 L448.1,72.9 L449,72.3 L450,71.2 L450.9,70.9 L451.9,69.8 L452.8,69.4 L453.8,69.5 L454.8,70.7 L455.8,71.1 L456.8,72.2 L457.9,71.7 L459,72.8 L460.1,73.6 L460.1,75.3 L460.2,75.5 L460.2,76.6 L460.3,77.4 L460.3,78.5 L460.5,79.5 L460.7,80.6 L460.9,81.4 L461,82.6 L461.2,83.7 L461.4,84.7 L461.8,85.5 L462.2,87.4 L462.6,89.3 L462.9,89.7 L463.3,90.7 L463.7,90.6 L464.1,91.7 L464.8,92.1 L465.5,93.8 L466.1,95.1 L466.8,96.1 L467.5,96.1 L468,94.4 L468.5,93.3 L469,93.2 L469.5,92.8 L470.2,93.4 L470.9,94.2 L471.6,95.4 L472.2,95.4 L472.9,96.6 L473.6,97.7 L474.2,98.2 L474.6,98.6 L475,98.9 L475.4,99.7 L475.7,101.6 L476.1,102.6 L476.5,103.8 L476.9,104.4 L477.6,105.3 L478.3,105.8 L478.9,105.9 L479.6,106.6 L480.3,108 L480.6,109.9 L481,110.6 L481.4,111.3 L481.7,112.1 L482.1,114 L482.4,115 L482.8,115.8 L483.1,116.5 L483.5,117.8 L483.8,118.9 L484.2,119.6 L484.5,120.4 L484.9,121.4 L485.2,122.4 L485.6,123.4 L486.6,123.6 L487.5,123.6 L488.5,124.6 L489.2,125.4 L489.8,126.9 L490.5,127.7 L491.1,128.6 L491.8,128.8 L492.6,129 L493.3,129.3 L494.1,130.3 L494.9,131.3 L495.6,132.1 L496.4,133.2 L497.2,133.8 L498,135.3 L498.7,136.1 L499.5,137 L500.3,137.5 L500.7,138.2 L501.1,138.8 L501.5,139.2 L501.9,140 L502.1,141.9 L502.2,143 L502.4,144.9 L502.6,145.3 L503.3,146.2 L504,146.8 L504.6,148.1 L505.3,149.7 L506,151 L506.6,151.6 L507.2,152.4 L507.8,152.6 L508.4,153.3 L509,154.3 L509.6,155.4" fill="none" stroke="#23261a" stroke-width="0.95" stroke-linejoin="round" stroke-linecap="butt" stroke-opacity="0.9"/><path d="M303.4,18.3 L303.9,18.1 L304.4,21.3 L304.9,24.3 L305.4,26 L306.5,24.4 L307.7,23.7 L308.8,23.5 L309.9,23.8 L311,23.3 L312.1,22.9 L312.8,21.6 L313.5,26.5 L314.1,23.5 L314.8,24.8 L315.3,20.9 L315.8,25.3 L316.3,25.7 L316.8,28.1 L317.6,26.9 L318.5,30 L319.4,30.8 L320.2,32.2 L320.9,26.1 L321.5,28.8 L322.2,35 L323.3,36.7 L324.5,31.9 L325.6,29.5 L326.7,33 L327.9,31.5 L329,31.9 L330,34.1 L331,31.3 L332,27.6 L333,29.5 L334.1,32.4 L335.2,29.7 L336.2,32.4 L337.3,30.8 L338.4,33.3 L339.5,31.4 L340.6,34.6 L341.6,32.3 L342.7,31.1 L343.8,34.7 L344.9,34.2 L345.9,33.6 L347,30.1 L348,32.2 L349.1,34.9 L350.2,33.2 L351.3,30 L352.3,34.6 L353.4,32.7 L354.5,31.4 L355.5,31.3 L356.6,32.6 L357.6,34.5 L358.6,29.5 L359.6,33.7 L360.6,32 L361.6,35.6 L362.6,35.1 L363.7,34.7 L364.8,35.2 L365.8,37.5 L366.9,37.6 L368,31.1 L368.8,38 L369.6,35.6 L370.4,32.8 L371.4,39.2 L372.3,35.3 L373.3,36 L374.2,39.5 L375.2,37.7 L376.1,38.8 L377.1,41.3 L378.2,39.7 L379.3,34 L380.5,38.7 L381.6,37 L382.7,37.4 L383.8,37.6 L384.9,40.8 L386,40.9 L387,40.5 L388.1,43.3 L389.2,41.8 L390.3,40.5 L391.5,42.7 L392.6,41.3 L393.8,41 L395,43.1 L396.1,42.8 L397.3,41.9 L398,42.4 L398.6,42.2 L399.3,41.9 L400,49.3 L400.6,46.1 L401.3,41.5 L402.4,46.4 L403.5,44.5 L404.5,43.8 L405.6,45 L406.7,46.2 L407.5,48.4 L408.3,46.5 L409.2,47.2 L410,49.3 L410.8,44.2 L411.5,46.6 L412.1,47.7 L412.8,53.7 L413.5,51.8 L414.4,49.6 L415.2,49.4 L416.1,48 L416.9,50.6 L417.8,49.1 L418.1,51.3 L418.5,52.6 L418.8,53.9 L419.1,54.1 L419.5,53.2 L419.8,56.1 L420.6,55.9 L421.4,56.8 L422.2,60.2 L423,56.5 L423.8,59.9 L424.8,60.2 L425.9,59.9 L426.9,59.3 L427.9,60.8 L428.8,59.7 L429.8,57.4 L430.7,56.8 L431.7,54.7 L432.6,56.6 L433,63.8 L433.5,57.2 L433.9,62.5 L434.3,62 L434.7,64.6 L435.1,65.3 L435.6,64.3 L436,66.1 L437,65.6 L438,65.7 L439,65.8 L440,67.5 L440.9,63.2 L441.8,67 L442.7,68 L443.6,67.1 L444.5,69.3 L445.4,73.4 L446.3,70 L447.2,73.9 L448.1,74.2 L449,70.6 L450,69.9 L450.9,70.1 L451.9,69.1 L452.8,73.8 L453.8,70.2 L454.8,70.5 L455.8,69.6 L456.8,70.6 L457.9,70.9 L459,71.7 L460.1,73.3 L460.1,75.5 L460.2,74.4 L460.2,73.1 L460.3,80.2 L460.3,78.7 L460.5,79.4 L460.7,78.1 L460.9,81.7 L461,82.8 L461.2,84.6 L461.4,84.7 L461.8,86.5 L462.2,86.7 L462.6,93.9 L462.9,84.6 L463.3,89.9 L463.7,85.8 L464.1,91.8 L464.8,91.7 L465.5,91.3 L466.1,96.3 L466.8,94 L467.5,93.1 L468,94.9 L468.5,93.4 L469,89.6 L469.5,95.4 L470.2,92.5 L470.9,93.2 L471.6,90.7 L472.2,98.4 L472.9,96.7 L473.6,98.5 L474.2,98 L474.6,95.2 L475,97.3 L475.4,101.4 L475.7,100.4 L476.1,104.7 L476.5,101.8 L476.9,106 L477.6,107.1 L478.3,104.2 L478.9,105.8 L479.6,108.3 L480.3,107.8 L480.6,109.5 L481,110.9 L481.4,109.5 L481.7,111.2 L482.1,114.3 L482.4,114.1 L482.8,113.7 L483.1,115.5 L483.5,118.2 L483.8,119.4 L484.2,120.1 L484.5,121 L484.9,124.9 L485.2,121.9 L485.6,122.5 L486.6,125.5 L487.5,124.5 L488.5,123.9 L489.2,123.9 L489.8,125 L490.5,127 L491.1,128.2 L491.8,125.8 L492.6,123.5 L493.3,132 L494.1,129 L494.9,131.3 L495.6,130.1 L496.4,128.4 L497.2,130.5 L498,131.3 L498.7,133.6 L499.5,135.5 L500.3,136.3 L500.7,137.2 L501.1,141.1 L501.5,139.5 L501.9,142.4 L502.1,142.2 L502.2,140.2 L502.4,141.4 L502.6,147 L503.3,145.3 L504,149 L504.6,146.6 L505.3,145.4 L506,148.2 L506.6,150.4 L507.2,149.3 L507.8,154.5 L508.4,153.8 L509,154.4 L509.6,153.3" fill="none" stroke="#4aa050" stroke-width="1.0" stroke-linejoin="round" stroke-linecap="butt" stroke-dasharray="1.6,1.8" stroke-opacity="0.9"/><path d="M323.2,31 L324.2,37.6 L325.2,31.5" fill="none" stroke="#4f9f98" stroke-width="1.0" stroke-linejoin="round" stroke-linecap="butt"/><path d="M358.8,34.5 L360.2,43.6 L361.5,35.5" fill="none" stroke="#4f9f98" stroke-width="1.0" stroke-linejoin="round" stroke-linecap="butt"/><path d="M420.5,55.5 L421.5,59.5 L422.5,57" fill="none" stroke="#4f9f98" stroke-width="1.0" stroke-linejoin="round" stroke-linecap="butt"/><path d="M321.1,31 L321.1,45.7" fill="none" stroke="#1a1a1a" stroke-width="2.0" stroke-linejoin="round" stroke-linecap="butt"/><path d="M326.9,31 L326.9,45.7" fill="none" stroke="#1a1a1a" stroke-width="2.0" stroke-linejoin="round" stroke-linecap="butt"/><path d="M419,51 L419,63" fill="none" stroke="#d08a40" stroke-width="1.3" stroke-linejoin="round" stroke-linecap="butt" stroke-opacity="0.9"/><path d="M418.2,50 L418.2,71.6" fill="none" stroke="#1a1a1a" stroke-width="1.2" stroke-linejoin="round" stroke-linecap="butt"/><path d="M317.5,27.5 L319.5,30.5 L321.5,34 L323.5,32.5 L325.5,35.5 L327.5,32 L329.5,33" fill="none" stroke="#d08a40" stroke-width="1.2" stroke-linejoin="round" stroke-linecap="butt" stroke-opacity="0.9"/><path d="M469.5,90.9 L469.5,96.5" fill="none" stroke="#1a1a1a" stroke-width="1.0" stroke-linejoin="round" stroke-linecap="butt"/><path d="M490.5,121.3 L490.5,127.5" fill="none" stroke="#1a1a1a" stroke-width="1.0" stroke-linejoin="round" stroke-linecap="butt"/><path d="M505.4,152.5 L505.4,158.5" fill="none" stroke="#1a1a1a" stroke-width="1.2" stroke-linejoin="round" stroke-linecap="butt"/><path d="M504.2,143.8 L509.6,143.8" fill="none" stroke="#3d6fa8" stroke-width="1.0" stroke-linejoin="round" stroke-linecap="butt" stroke-dasharray="1.5,1"/><path d="M503,146 L509.6,150" fill="none" stroke="#3f8f48" stroke-width="1.0" stroke-linejoin="round" stroke-linecap="butt" stroke-dasharray="1.5,1"/><rect x="313.2" y="88" width="135.8" height="51.2" fill="#fff" stroke="#e0e0e0" stroke-width="0.9"/><line x1="320.5" y1="96.2" x2="330" y2="96.2" stroke="#4a6590" stroke-width="1.1" stroke-dasharray="2,1.3"/><text x="331.2" y="97.8" font-size="5.5" fill="#000" stroke="#000" stroke-width="0.26">k-means-CNN-WNN-WBILSTM-AM</text><line x1="320.5" y1="105" x2="330" y2="105" stroke="#dc9a50" stroke-width="1.1" stroke-dasharray="2,1.3"/><text x="331.2" y="106.6" font-size="5.5" fill="#000" stroke="#000" stroke-width="0.26">DBSCAN-CNN-WNN-WBILSTM-AM</text><line x1="320.5" y1="113.8" x2="330" y2="113.8" stroke="#5aa05a" stroke-width="1.1" stroke-dasharray="2,1.3"/><text x="331.2" y="115.3" font-size="5.5" fill="#000" stroke="#000" stroke-width="0.26">FCM-CNN-WNN-WBILSTM-AM (Adagrad)</text><line x1="320.5" y1="122.5" x2="330" y2="122.5" stroke="#b85068" stroke-width="1.1" stroke-dasharray="2,1.3"/><text x="331.2" y="124.1" font-size="5.5" fill="#000" stroke="#000" stroke-width="0.26">FCM-CNN-WNN-WBILSTM-AM (RMSProp)</text><line x1="320.5" y1="131.2" x2="330" y2="131.2" stroke="#333" stroke-width="1.3"/><text x="331.2" y="132.8" font-size="5.5" fill="#000" stroke="#000" stroke-width="0.26">True</text><text transform="translate(274.8,89.7) rotate(-90)" font-size="6.2" text-anchor="middle" fill="#000" stroke="#000" stroke-width="0.26">SOH</text><text x="403" y="188.9" font-size="6.45" text-anchor="middle" fill="#000" stroke="#000" stroke-width="0.26">Discharge Cycles</text><text x="270.4" y="9.2" font-size="10.4" fill="#000" stroke="#000" stroke-width="0.2">B</text></g>
<g id="pC"><line x1="37.5" y1="209.4" x2="37.5" y2="366" stroke="#dcdcdc" stroke-width="1"/><text x="37.5" y="374.9" font-size="6.3" text-anchor="middle" fill="#000" stroke="#000" stroke-width="0.26">0</text><line x1="80.2" y1="209.4" x2="80.2" y2="366" stroke="#dcdcdc" stroke-width="1"/><text x="80.2" y="374.9" font-size="6.3" text-anchor="middle" fill="#000" stroke="#000" stroke-width="0.26">200</text><line x1="123.6" y1="209.4" x2="123.6" y2="366" stroke="#dcdcdc" stroke-width="1"/><text x="123.6" y="374.9" font-size="6.3" text-anchor="middle" fill="#000" stroke="#000" stroke-width="0.26">400</text><line x1="165.8" y1="209.4" x2="165.8" y2="366" stroke="#dcdcdc" stroke-width="1"/><text x="165.8" y="374.9" font-size="6.3" text-anchor="middle" fill="#000" stroke="#000" stroke-width="0.26">600</text><line x1="208.6" y1="209.4" x2="208.6" y2="366" stroke="#dcdcdc" stroke-width="1"/><text x="208.6" y="374.9" font-size="6.3" text-anchor="middle" fill="#000" stroke="#000" stroke-width="0.26">600</text><line x1="250.8" y1="209.4" x2="250.8" y2="366" stroke="#dcdcdc" stroke-width="1"/><text x="250.8" y="374.9" font-size="6.3" text-anchor="middle" fill="#000" stroke="#000" stroke-width="0.26">1000</text><line x1="26.5" y1="214.4" x2="254.3" y2="214.4" stroke="#dcdcdc" stroke-width="1"/><text x="23.7" y="216.3" font-size="6.3" text-anchor="end" fill="#000" stroke="#000" stroke-width="0.26">1.0</text><line x1="26.5" y1="249" x2="254.3" y2="249" stroke="#dcdcdc" stroke-width="1"/><text x="23.7" y="250.9" font-size="6.3" text-anchor="end" fill="#000" stroke="#000" stroke-width="0.26">0.8</text><line x1="26.5" y1="284.2" x2="254.3" y2="284.2" stroke="#dcdcdc" stroke-width="1"/><text x="23.7" y="286.1" font-size="6.3" text-anchor="end" fill="#000" stroke="#000" stroke-width="0.26">0.6</text><line x1="26.5" y1="318.6" x2="254.3" y2="318.6" stroke="#dcdcdc" stroke-width="1"/><text x="23.7" y="320.5" font-size="6.3" text-anchor="end" fill="#000" stroke="#000" stroke-width="0.26">0.4</text><line x1="26.5" y1="354" x2="254.3" y2="354" stroke="#dcdcdc" stroke-width="1"/><text x="23.7" y="355.9" font-size="6.3" text-anchor="end" fill="#000" stroke="#000" stroke-width="0.26">0.2</text><rect x="29" y="209.4" width="225.3" height="154.1" fill="none" stroke="#d4d4d4" stroke-width="1"/><path d="M37.7,215.4 L46.5,223.5 L55.9,230.9 L66.6,235.6 L77.4,234.9 L89.5,233.6 L100,232.8 L108.1,234.8 L117.5,239.5 L126.9,244.9 L135,248.6 L145,250.5 L155,251.3 L165,250.6 L170,250.5 L175,251.5 L180,253.9 L185,257.7 L190,263 L194.6,268.6 L200,274.6 L204,282 L208,289.5 L217,306.4 L228,327.3 L234.9,338.1 L239.9,345.8 L243.5,354.8" fill="none" stroke="#c0384c" stroke-width="1.15" stroke-linejoin="round" stroke-linecap="butt" stroke-dasharray="3,1.8"/><path d="M37.7,216.1 L38.2,216.3 L38.8,217.4 L39.3,218.4 L39.9,220 L40.4,220.5 L41.3,222 L42.2,223.2 L43.1,224.7 L44,224.4 L44.8,224.4 L45.6,224 L46.5,224.7 L47.2,222.5 L47.9,222.8 L48.5,222 L49.2,222.3 L49.6,223.1 L50,223.9 L50.4,225 L50.8,226.1 L51.2,226.6 L52,228.2 L52.9,228.7 L53.7,230.6 L54.5,230.1 L55.6,230.1 L56.8,231.1 L57.9,231.8 L59,232.6 L60.2,232.7 L61.3,234.4 L62.1,232.7 L62.9,232.5 L63.8,231.3 L64.6,232.2 L65.5,231.4 L66.5,231.8 L67.4,232.6 L68.4,233.4 L69.3,233.4 L70.3,232.2 L71.3,231.8 L72.4,232.3 L73.4,232.5 L74.5,232.8 L75.6,233 L76.6,232.7 L77.7,232.5 L78.8,233.6 L79.9,233.7 L80.9,235.1 L82,233.7 L83,233.7 L84.1,233 L85.2,232.8 L86.3,232.6 L87.3,232.4 L88.4,232.8 L89.5,233.7 L90.6,235 L91.7,234.9 L92.7,234.4 L93.8,234 L94.9,235.1 L95.9,236.5 L96.9,236 L97.9,236.4 L98.9,236.1 L99.9,235.5 L101,235.3 L102,234.4 L103,235.3 L103.8,235.5 L104.6,236.8 L105.4,238.3 L106.6,239.3 L107.8,239.6 L108.9,238.7 L110.1,237.6 L110.9,238.8 L111.8,239.8 L112.7,240.6 L113.5,240 L114.7,240 L115.8,240.7 L117,242.2 L118.2,242.1 L119.2,241.4 L120.2,240.8 L121.2,241.1 L122.2,241.7 L123.1,242.7 L124.1,242.8 L125,241.8 L126,242 L126.9,242.7 L127.9,243.9 L128.9,242.3 L130,242.5 L131,242.3 L132,243.5 L133,244 L134,244.1 L135,244.7 L135.9,244.5 L136.9,244.6 L137.8,244.5 L138.8,243.5 L139.7,242.4 L140.5,242.9 L141.4,243.7 L142.2,244.2 L143.1,244.9 L144.1,245.5 L145.1,246 L146.1,245.6 L147.1,245.8 L148.2,245.7 L149.3,245.7 L150.3,245.4 L151.4,245.2 L152.5,246.2 L153.5,246.5 L154.5,247.7 L155.5,248.5 L156.5,249.7 L157.5,250.3 L158.5,249.2 L159.5,249.3 L160.5,249.6 L161.8,250.6 L163,251 L163.8,252.7 L164.5,253.3 L165.2,253.6 L166,254.4 L166.8,254.7 L167.7,255.6 L168.5,255.9 L169.8,256.4 L171,256.7 L172.2,258 L173.5,258.8 L174.5,257.3 L175.5,256.5 L176.5,257.8 L177.5,260 L178.3,260.1 L179.2,261.1 L180,262.5 L180.8,263.2 L181.7,264.1 L182.5,264.2 L183.5,263.1 L184.5,261.9 L185,263 L185.6,264.1 L186.1,265.6 L186.7,265.8 L187.2,267.8 L188,268.2 L188.9,269.6 L189.8,269.3 L190.6,269.3 L191.9,267.7 L193.3,267.7 L194.2,267.4 L195.1,268.1 L196,268 L196.8,268.8 L197.7,269 L198.5,269.7 L199.3,270.3 L200,271.4 L200.7,271.3 L201.3,272.9 L202,273.5 L202.3,276.1 L202.6,276.1 L202.9,277.1 L203.1,277.2 L203.4,278.3 L203.7,278.7 L204,279.1 L204.3,280 L204.6,281.6 L204.9,283.7 L205.1,285.4 L205.4,286.7 L205.7,287.6 L206,287.2 L206.6,287.9 L207.1,288.3 L207.6,289.9 L208.2,291.6 L208.9,290.7 L209.7,289.8 L210.4,289.1 L210.9,290.4 L211.5,292.1 L212,291.8 L212.5,293.5 L213,294.6 L213.5,296.9 L214,298.5 L214.5,299.7 L215,299.7 L215.5,299.1 L216,300.5 L216.5,301.5 L217,303.1 L217.9,303 L218.8,302.1 L219.6,302.5 L220.5,303.2 L221.4,305.6 L221.7,306.4 L222.1,307.5 L222.4,307.9 L222.7,309.2 L223.1,309.8 L223.4,311.4 L223.7,312.9 L224,314.3 L224.4,314.7 L224.7,315 L225.3,315.1 L226,316.7 L226.6,318.1 L227.2,319.3 L227.8,320.1 L228.5,319.9 L229.1,321.4 L229.7,322.6 L230.4,324.1 L231,324.8 L231.6,324.6 L232.2,325 L232.9,325.9 L233.5,328.2 L234.3,328.4 L235.2,330 L236,330 L236.8,331 L237.2,332.1 L237.7,333.6 L238.2,334.9 L238.6,335.3 L239.2,336.3 L239.8,337 L240.5,338.4 L241.1,338.5 L241.7,340.6 L241.8,340.7 L241.9,341.4 L241.9,341.8 L242,342.9 L242.1,344.8 L242.2,345.3 L242.3,346.1 L242.5,347.3 L242.6,349 L242.8,350.2 L242.9,351.4 L243.1,351.9 L243.3,354.5 L243.5,355.8" fill="none" stroke="#3f8f48" stroke-width="1.1" stroke-linejoin="round" stroke-linecap="butt"/><path d="M37.7,216.4 L38.2,216.7 L38.8,218.2 L39.3,218.2 L39.9,219.4 L40.4,219.8 L41.3,221.8 L42.2,223 L43.1,223 L44,224.2 L44.8,224.3 L45.6,225.4 L46.5,225.2 L47.2,224.5 L47.9,223.2 L48.5,222.9 L49.2,222 L49.6,223.8 L50,223.4 L50.4,224.7 L50.8,225.2 L51.2,227.2 L52,227.9 L52.9,229 L53.7,229.7 L54.5,230.4 L55.6,230.7 L56.8,231.3 L57.9,231.7 L59,232.2 L60.2,233 L61.3,233.3 L62.1,233.8 L62.9,233.3 L63.8,233.7 L64.6,232 L65.5,231.4 L66.5,230.3 L67.4,230.4 L68.4,231.1 L69.3,232.1 L70.3,232.1 L71.3,232.5 L72.4,231.4 L73.4,232.2 L74.5,232 L75.6,233.5 L76.6,232.1 L77.7,232.7 L78.8,232.2 L79.9,233.1 L80.9,233 L82,233.7 L83,233.2 L84.1,232.8 L85.2,232.7 L86.3,233.3 L87.3,233.7 L88.4,234.1 L89.5,234.9 L90.6,235.2 L91.7,234.9 L92.7,232.9 L93.8,232 L94.9,232.7 L95.9,234.5 L96.9,235.5 L97.9,235.3 L98.9,235.1 L99.9,235.5 L101,236.3 L102,236.2 L103,235.7 L103.8,236.2 L104.6,236.4 L105.4,236.7 L106.6,235.8 L107.8,236.1 L108.9,236.6 L110.1,237.1 L110.9,238.2 L111.8,240.4 L112.7,241.4 L113.5,241.2 L114.7,239.7 L115.8,239.9 L117,240.9 L118.2,242.9 L119.2,242.3 L120.2,242.2 L121.2,240.9 L122.2,240.6 L123.1,241.8 L124.1,242.2 L125,243.2 L126,243.3 L126.9,242.8 L127.9,242.7 L128.9,243.6 L130,244.3 L131,243.7 L132,243.4 L133,243.8 L134,244.2 L135,243.9 L135.9,243.9 L136.9,243.2 L137.8,243.8 L138.8,243 L139.7,242.4 L140.5,241.6 L141.4,242.4 L142.2,243 L143.1,244.8 L144.1,245.3 L145.1,247.4 L146.1,247 L147.1,247.1 L148.2,246.5 L149.3,246.1 L150.3,246.5 L151.4,247 L152.5,248.1 L153.5,248.2 L154.5,248.3 L155.5,248.8 L156.5,249.4 L157.5,249.8 L158.5,250 L159.5,251.6 L160.5,251.9 L161.8,251.7 L163,250 L163.8,249.7 L164.5,249.7 L165.2,250.4 L166,252.5 L166.8,254.6 L167.7,256.8 L168.5,258 L169.8,258.2 L171,257.4 L172.2,258 L173.5,258.1 L174.5,257.8 L175.5,257.1 L176.5,258.5 L177.5,259.5 L178.3,259.8 L179.2,260 L180,260.8 L180.8,261.7 L181.7,263.4 L182.5,264.1 L183.5,262 L184.5,260.4 L185,262 L185.6,263.7 L186.1,264.7 L186.7,265.6 L187.2,267.3 L188,268.5 L188.9,269.2 L189.8,270 L190.6,270.8 L191.9,270.4 L193.3,270.5 L194.2,269.1 L195.1,269.3 L196,267.9 L196.8,268.7 L197.7,268.7 L198.5,269.7 L199.3,270.2 L200,270.9 L200.7,271.8 L201.3,273.8 L202,274.7 L202.3,274.8 L202.6,275.3 L202.9,277.3 L203.1,278.4 L203.4,280.8 L203.7,280.7 L204,282.1 L204.3,281.4 L204.6,282.5 L204.9,283.6 L205.1,284.4 L205.4,286.3 L205.7,287.8 L206,289.5 L206.6,289 L207.1,289.3 L207.6,290.1 L208.2,292.3 L208.9,291.5 L209.7,290.2 L210.4,288.8 L210.9,290.1 L211.5,291.9 L212,293.4 L212.5,294 L213,294.2 L213.5,295.2 L214,296.9 L214.5,298 L215,298.7 L215.5,298.9 L216,300.7 L216.5,301.5 L217,301.9 L217.9,301.8 L218.8,302.1 L219.6,302.8 L220.5,303.4 L221.4,303.7 L221.7,305.3 L222.1,306.8 L222.4,307.8 L222.7,308.8 L223.1,310.4 L223.4,312 L223.7,313.3 L224,313.4 L224.4,313.8 L224.7,314 L225.3,314.9 L226,315.3 L226.6,316.7 L227.2,317.9 L227.8,319.4 L228.5,320.1 L229.1,320.6 L229.7,322.2 L230.4,323.7 L231,325.9 L231.6,326.6 L232.2,327.2 L232.9,328 L233.5,328.2 L234.3,328.4 L235.2,329.2 L236,330.8 L236.8,332.4 L237.2,333.6 L237.7,334.3 L238.2,335.2 L238.6,335.7 L239.2,336.1 L239.8,337.1 L240.5,338 L241.1,339.5 L241.7,339.8 L241.8,340.2 L241.9,340.3 L241.9,341.3 L242,343.4 L242.1,346.1 L242.2,347.5 L242.3,347.5 L242.5,348.6 L242.6,350.2 L242.8,351.9 L242.9,352 L243.1,352.9 L243.3,354.4 L243.5,356.6" fill="none" stroke="#d08a40" stroke-width="0.7" stroke-linejoin="round" stroke-linecap="butt" stroke-opacity="0.85"/><path d="M37.7,214.4 L38.2,215.9 L38.8,217 L39.3,217.6 L39.9,217.5 L40.4,219 L41.3,220.3 L42.2,221.6 L43.1,221.7 L44,221.4 L44.8,222.4 L45.6,223.1 L46.5,224.9 L47.2,224.5 L47.9,223.8 L48.5,222.7 L49.2,221.4 L49.6,222.6 L50,223.8 L50.4,223.9 L50.8,224.7 L51.2,224.9 L52,226.8 L52.9,228.6 L53.7,230 L54.5,230.4 L55.6,230.1 L56.8,232 L57.9,233 L59,233.8 L60.2,233.6 L61.3,234.5 L62.1,233.4 L62.9,232.7 L63.8,231.7 L64.6,231.5 L65.5,232 L66.5,232.7 L67.4,233.1 L68.4,232.9 L69.3,233.2 L70.3,233.1 L71.3,233.3 L72.4,233.6 L73.4,233.5 L74.5,233.6 L75.6,232.3 L76.6,232.6 L77.7,233.1 L78.8,234.3 L79.9,234.2 L80.9,234.2 L82,233.9 L83,233.6 L84.1,233.4 L85.2,233.1 L86.3,232.8 L87.3,232.2 L88.4,232.7 L89.5,232.4 L90.6,232.9 L91.7,233.1 L92.7,234.3 L93.8,234.3 L94.9,234.7 L95.9,234.9 L96.9,235.4 L97.9,235.8 L98.9,236 L99.9,235.6 L101,235.2 L102,234.7 L103,236 L103.8,236.7 L104.6,237.4 L105.4,236.5 L106.6,236.6 L107.8,237.1 L108.9,237.8 L110.1,237.1 L110.9,237.3 L111.8,237.7 L112.7,239.2 L113.5,240.2 L114.7,241 L115.8,242 L117,241.9 L118.2,242.1 L119.2,241 L120.2,240.8 L121.2,241.1 L122.2,240.6 L123.1,242.2 L124.1,242.6 L125,244 L126,244.2 L126.9,244.3 L127.9,242.9 L128.9,242.5 L130,243.5 L131,243.7 L132,243.6 L133,243.3 L134,244.5 L135,245 L135.9,244.1 L136.9,242.1 L137.8,241.1 L138.8,240.4 L139.7,240 L140.5,241.2 L141.4,242.2 L142.2,243.8 L143.1,245.1 L144.1,246 L145.1,245.8 L146.1,246.1 L147.1,246.2 L148.2,247.7 L149.3,248.9 L150.3,249.1 L151.4,248.3 L152.5,246.8 L153.5,247.5 L154.5,247.8 L155.5,249.9 L156.5,249.6 L157.5,249.4 L158.5,249.5 L159.5,250.4 L160.5,251.9 L161.8,250.9 L163,250.2 L163.8,251.3 L164.5,251.2 L165.2,252 L166,252.8 L166.8,253.9 L167.7,255.3 L168.5,255.8 L169.8,256.2 L171,257.2 L172.2,257.4 L173.5,258.7 L174.5,257.2 L175.5,257.7 L176.5,258.8 L177.5,259.7 L178.3,259.3 L179.2,260.4 L180,261.9 L180.8,262.7 L181.7,263.7 L182.5,263.9 L183.5,263.3 L184.5,262.1 L185,263.6 L185.6,264.7 L186.1,265.6 L186.7,266.3 L187.2,267.3 L188,268 L188.9,268.3 L189.8,268.2 L190.6,268.9 L191.9,269.1 L193.3,269.5 L194.2,269 L195.1,268.5 L196,267.5 L196.8,268.1 L197.7,268.3 L198.5,270 L199.3,270.9 L200,272.3 L200.7,272.2 L201.3,272.9 L202,273.8 L202.3,274.7 L202.6,275.7 L202.9,276.8 L203.1,278.5 L203.4,279.2 L203.7,281 L204,282.4 L204.3,282.7 L204.6,281.9 L204.9,281.6 L205.1,284.1 L205.4,286.4 L205.7,287.9 L206,288.3 L206.6,288.5 L207.1,289.6 L207.6,290.1 L208.2,291.9 L208.9,290.8 L209.7,290.2 L210.4,288.9 L210.9,290.7 L211.5,293.1 L212,293.4 L212.5,294.4 L213,294.2 L213.5,296.6 L214,297.7 L214.5,298.4 L215,298.7 L215.5,299.7 L216,301.8 L216.5,302.3 L217,302.1 L217.9,302.1 L218.8,303.7 L219.6,305.3 L220.5,305.9 L221.4,306.2 L221.7,307 L222.1,307.9 L222.4,308.2 L222.7,309.3 L223.1,310.4 L223.4,312.3 L223.7,312.9 L224,313.5 L224.4,314.4 L224.7,315.8 L225.3,317.8 L226,317.8 L226.6,318.1 L227.2,318.1 L227.8,320.7 L228.5,320.8 L229.1,322.2 L229.7,321.8 L230.4,323.3 L231,324.2 L231.6,325.9 L232.2,325.9 L232.9,325.8 L233.5,326.4 L234.3,328.5 L235.2,330.3 L236,330.8 L236.8,331.7 L237.2,331.1 L237.7,332.7 L238.2,333.7 L238.6,336.1 L239.2,336.4 L239.8,338.1 L240.5,338.4 L241.1,340.4 L241.7,341.3 L241.8,342.2 L241.9,342.6 L241.9,342.5 L242,343.2 L242.1,344.4 L242.2,345.8 L242.3,348.3 L242.5,349.8 L242.6,350 L242.8,350.3 L242.9,350.8 L243.1,353.1 L243.3,354.6 L243.5,356" fill="none" stroke="#3f7f9a" stroke-width="0.7" stroke-linejoin="round" stroke-linecap="butt" stroke-opacity="0.8"/><path d="M37.7,214.1 L38.2,216.3 L38.8,218.9 L39.3,216.2 L39.9,220.1 L40.4,219.3 L41.3,222.2 L42.2,221.5 L43.1,222.6 L44,224 L44.8,223.5 L45.6,224.8 L46.5,225.3 L47.2,226.1 L47.9,223.8 L48.5,220.4 L49.2,221.8 L49.6,222.7 L50,223.5 L50.4,226.2 L50.8,226.9 L51.2,225 L52,229.1 L52.9,227.9 L53.7,228.7 L54.5,229.4 L55.6,230.3 L56.8,231.8 L57.9,229.9 L59,231.8 L60.2,231.8 L61.3,233.1 L62.1,232.1 L62.9,232.7 L63.8,232.2 L64.6,229.4 L65.5,231.3 L66.5,229.5 L67.4,232 L68.4,233.1 L69.3,232.4 L70.3,235.3 L71.3,232.9 L72.4,231.2 L73.4,232.4 L74.5,231.4 L75.6,233.1 L76.6,232.6 L77.7,233.1 L78.8,230.2 L79.9,232.3 L80.9,234 L82,233.8 L83,233.7 L84.1,233 L85.2,234 L86.3,234.1 L87.3,233.7 L88.4,234.6 L89.5,234.5 L90.6,233.1 L91.7,234.6 L92.7,235.3 L93.8,234.3 L94.9,232.4 L95.9,234.7 L96.9,235.7 L97.9,232.8 L98.9,234.3 L99.9,234.5 L101,237.7 L102,236.5 L103,235.1 L103.8,237.1 L104.6,237.1 L105.4,235.5 L106.6,236.9 L107.8,238.5 L108.9,237 L110.1,240.3 L110.9,237.7 L111.8,238.6 L112.7,239.6 L113.5,240.8 L114.7,241.1 L115.8,243 L117,244.2 L118.2,241.8 L119.2,239.9 L120.2,241 L121.2,241.2 L122.2,242.7 L123.1,242.3 L124.1,242.2 L125,246.1 L126,242.1 L126.9,242.7 L127.9,245.7 L128.9,244.6 L130,243.7 L131,242 L132,244.1 L133,244.2 L134,243.1 L135,244.2 L135.9,241.8 L136.9,244.3 L137.8,241.1 L138.8,243.1 L139.7,240.2 L140.5,241.1 L141.4,242.8 L142.2,242.9 L143.1,245.6 L144.1,244 L145.1,245.6 L146.1,246.6 L147.1,247.2 L148.2,247.3 L149.3,246.1 L150.3,248.9 L151.4,246.5 L152.5,246.1 L153.5,247.5 L154.5,249.9 L155.5,246 L156.5,247.8 L157.5,250.8 L158.5,249.8 L159.5,249 L160.5,252.1 L161.8,251.5 L163,250 L163.8,249.4 L164.5,251.4 L165.2,251.8 L166,254.9 L166.8,252.8 L167.7,252.7 L168.5,256 L169.8,256.1 L171,258.8 L172.2,254.6 L173.5,257.6 L174.5,258.4 L175.5,256.4 L176.5,258.1 L177.5,258 L178.3,261.7 L179.2,259 L180,261.5 L180.8,262.1 L181.7,262.9 L182.5,264.7 L183.5,262.7 L184.5,262 L185,263.5 L185.6,264.3 L186.1,266.2 L186.7,264.9 L187.2,269.1 L188,265.7 L188.9,266.4 L189.8,268.3 L190.6,268.4 L191.9,270.2 L193.3,269.8 L194.2,269.7 L195.1,269 L196,268 L196.8,271.5 L197.7,267.7 L198.5,269.2 L199.3,269.5 L200,272.4 L200.7,271.8 L201.3,272.3 L202,272.8 L202.3,275 L202.6,274.8 L202.9,277.8 L203.1,278.6 L203.4,279.1 L203.7,280.5 L204,281.3 L204.3,283.5 L204.6,282.3 L204.9,282.9 L205.1,284.6 L205.4,285.4 L205.7,287.5 L206,287.4 L206.6,287.6 L207.1,289.8 L207.6,291.8 L208.2,291.1 L208.9,292.4 L209.7,292.4 L210.4,288.7 L210.9,290.3 L211.5,291.5 L212,290.5 L212.5,293.8 L213,292.7 L213.5,295.2 L214,297.3 L214.5,299.9 L215,299.3 L215.5,299.4 L216,301.3 L216.5,301.3 L217,301.4 L217.9,304 L218.8,302.7 L219.6,305 L220.5,306.6 L221.4,305.1 L221.7,305.9 L222.1,305.4 L222.4,308.4 L222.7,309.1 L223.1,311.3 L223.4,311.7 L223.7,311.7 L224,313.2 L224.4,314.8 L224.7,313.9 L225.3,316.2 L226,317 L226.6,318.6 L227.2,320.4 L227.8,321.3 L228.5,319 L229.1,320.7 L229.7,325 L230.4,325.6 L231,324 L231.6,324.1 L232.2,326.7 L232.9,327 L233.5,327.6 L234.3,328.6 L235.2,332 L236,331.2 L236.8,333.5 L237.2,332.9 L237.7,333.1 L238.2,336.7 L238.6,336.7 L239.2,336.8 L239.8,338.7 L240.5,337.9 L241.1,338 L241.7,338.9 L241.8,340 L241.9,341.4 L241.9,343 L242,345.2 L242.1,345.8 L242.2,345.4 L242.3,346.5 L242.5,345.7 L242.6,351.6 L242.8,349.5 L242.9,352.9 L243.1,351.6 L243.3,353.4 L243.5,355.2" fill="none" stroke="#55a050" stroke-width="1.0" stroke-linejoin="round" stroke-linecap="butt"/><path d="M37.7,214.7 L38.2,215.9 L38.8,216.6 L39.3,217.5 L39.9,219.2 L40.4,220.2 L41.3,221.1 L42.2,221.2 L43.1,221.8 L44,222.7 L44.8,223.7 L45.6,225 L46.5,225.3 L47.2,224 L47.9,222.7 L48.5,222.2 L49.2,221.1 L49.6,222.5 L50,223.2 L50.4,224.8 L50.8,226 L51.2,227.6 L52,228 L52.9,228.7 L53.7,229.5 L54.5,230.4 L55.6,231 L56.8,231.3 L57.9,231.6 L59,232.2 L60.2,233 L61.3,234.1 L62.1,233.2 L62.9,232.8 L63.8,230.9 L64.6,230.2 L65.5,230.2 L66.5,231.2 L67.4,232.1 L68.4,231.7 L69.3,231.9 L70.3,231 L71.3,231.5 L72.4,232.3 L73.4,232.3 L74.5,232.4 L75.6,231.8 L76.6,232.7 L77.7,233.4 L78.8,234.3 L79.9,233.6 L80.9,233.1 L82,232.5 L83,232.5 L84.1,232.3 L85.2,232.9 L86.3,232.6 L87.3,233.4 L88.4,233.4 L89.5,234.8 L90.6,235 L91.7,235.3 L92.7,235.1 L93.8,235.2 L94.9,235.1 L95.9,235.7 L96.9,235.7 L97.9,236.4 L98.9,236.1 L99.9,236 L101,235.5 L102,235.2 L103,235.1 L103.8,236.4 L104.6,237.4 L105.4,237.5 L106.6,237.1 L107.8,236.8 L108.9,237.2 L110.1,237 L110.9,237.9 L111.8,238.9 L112.7,239.9 L113.5,241 L114.7,241 L115.8,241.1 L117,241.3 L118.2,241.3 L119.2,241.4 L120.2,241.2 L121.2,241.3 L122.2,241.2 L123.1,241.6 L124.1,242.7 L125,243.3 L126,244.4 L126.9,244.3 L127.9,244 L128.9,243.6 L130,243.5 L131,243.3 L132,243.7 L133,243.8 L134,243.9 L135,245.2 L135.9,244.6 L136.9,244.2 L137.8,242.4 L138.8,242 L139.7,241.4 L140.5,241.9 L141.4,242.3 L142.2,243 L143.1,244.4 L144.1,245.3 L145.1,245.9 L146.1,246.1 L147.1,246.6 L148.2,245.8 L149.3,246.6 L150.3,246.5 L151.4,247.2 L152.5,247 L153.5,247.3 L154.5,247.8 L155.5,248.1 L156.5,249.1 L157.5,249.3 L158.5,249.9 L159.5,250.3 L160.5,251.3 L161.8,250.4 L163,249.9 L163.8,250.4 L164.5,251 L165.2,251.7 L166,252.9 L166.8,253.9 L167.7,254.6 L168.5,255 L169.8,256.3 L171,257.3 L172.2,258.6 L173.5,258.5 L174.5,258 L175.5,256.7 L176.5,258 L177.5,258.4 L178.3,260.3 L179.2,261.4 L180,263 L180.8,262.9 L181.7,263.1 L182.5,263.2 L183.5,261.7 L184.5,261.3 L185,262.5 L185.6,263.9 L186.1,264.8 L186.7,266.2 L187.2,267.1 L188,267.5 L188.9,268.2 L189.8,269.1 L190.6,269.6 L191.9,269.5 L193.3,269.5 L194.2,269.4 L195.1,268.6 L196,267.5 L196.8,268.5 L197.7,268.8 L198.5,269.4 L199.3,269.4 L200,270.9 L200.7,272.2 L201.3,273.1 L202,273.8 L202.3,274.5 L202.6,276.1 L202.9,277.5 L203.1,278.5 L203.4,279.2 L203.7,279.8 L204,281.2 L204.3,282.4 L204.6,283.5 L204.9,284.3 L205.1,285 L205.4,285.6 L205.7,286.7 L206,288.2 L206.6,290.2 L207.1,291 L207.6,291.8 L208.2,292.2 L208.9,291.4 L209.7,290.1 L210.4,289.4 L210.9,290.4 L211.5,292 L212,293.1 L212.5,293.9 L213,294.6 L213.5,295.1 L214,296.5 L214.5,297.6 L215,298.7 L215.5,299.4 L216,300.5 L216.5,302.1 L217,302.9 L217.9,303.5 L218.8,303.6 L219.6,304 L220.5,304.1 L221.4,304.5 L221.7,305.7 L222.1,307 L222.4,308.1 L222.7,308.9 L223.1,310.4 L223.4,310.8 L223.7,311.6 L224,312.6 L224.4,314.4 L224.7,315.8 L225.3,316.1 L226,317.5 L226.6,318.7 L227.2,319.7 L227.8,320.1 L228.5,321.5 L229.1,322.8 L229.7,323.7 L230.4,324.1 L231,325.1 L231.6,325.8 L232.2,326.6 L232.9,327.6 L233.5,329.7 L234.3,330 L235.2,330.6 L236,330.2 L236.8,332.4 L237.2,333 L237.7,334 L238.2,334.3 L238.6,335.9 L239.2,336.7 L239.8,337.8 L240.5,338.6 L241.1,340.2 L241.7,340.6 L241.8,340.9 L241.9,342.6 L241.9,343.3 L242,344.8 L242.1,344.8 L242.2,346.5 L242.3,347.4 L242.5,348.4 L242.6,349.3 L242.8,350.7 L242.9,352 L243.1,352.9 L243.3,354.3 L243.5,355.8" fill="none" stroke="#23261a" stroke-width="0.95" stroke-linejoin="round" stroke-linecap="butt" stroke-opacity="0.9"/><path d="M37.7,213 L38.2,221.6 L38.8,221.8 L39.3,217.2 L39.9,220.2 L40.4,216.1 L41.3,223.8 L42.2,221.9 L43.1,222.8 L44,226.7 L44.8,221.8 L45.6,225.9 L46.5,223 L47.2,223.8 L47.9,226.1 L48.5,217.4 L49.2,219.4 L49.6,225.5 L50,225.1 L50.4,223.4 L50.8,227.4 L51.2,228.4 L52,227.9 L52.9,226.1 L53.7,230.6 L54.5,233.1 L55.6,228.8 L56.8,234.8 L57.9,232.8 L59,234.5 L60.2,228.5 L61.3,237.4 L62.1,235.6 L62.9,235.4 L63.8,229.9 L64.6,231.9 L65.5,231.9 L66.5,234 L67.4,239 L68.4,229.2 L69.3,235.5 L70.3,231.7 L71.3,232.8 L72.4,234.7 L73.4,231.2 L74.5,231.1 L75.6,233.6 L76.6,233 L77.7,233.4 L78.8,234.9 L79.9,233.8 L80.9,234 L82,233.3 L83,235 L84.1,235.2 L85.2,232.1 L86.3,231.9 L87.3,232 L88.4,234.7 L89.5,235.9 L90.6,233.7 L91.7,233.3 L92.7,233.6 L93.8,233.5 L94.9,234.2 L95.9,233.5 L96.9,236.2 L97.9,236.8 L98.9,236.9 L99.9,233.6 L101,239.6 L102,238 L103,235.3 L103.8,237.8 L104.6,238.6 L105.4,237.5 L106.6,233.5 L107.8,235.9 L108.9,236.8 L110.1,239.7 L110.9,241 L111.8,240.7 L112.7,239.4 L113.5,242.7 L114.7,240.7 L115.8,245.2 L117,243 L118.2,242.1 L119.2,241 L120.2,241.8 L121.2,241.2 L122.2,236.5 L123.1,243.7 L124.1,244.4 L125,242.2 L126,245.6 L126.9,242.4 L127.9,243.2 L128.9,242.9 L130,242.3 L131,241.7 L132,243.8 L133,242.9 L134,244.6 L135,243.6 L135.9,244.4 L136.9,241.6 L137.8,241.1 L138.8,238.3 L139.7,243.6 L140.5,243.7 L141.4,245.2 L142.2,241.9 L143.1,243.1 L144.1,245.3 L145.1,243.7 L146.1,248.5 L147.1,244.9 L148.2,248.8 L149.3,247.7 L150.3,242 L151.4,246.3 L152.5,246.4 L153.5,244.3 L154.5,246.3 L155.5,245.3 L156.5,246.3 L157.5,249.9 L158.5,249.4 L159.5,250.6 L160.5,249.4 L161.8,250.8 L163,248 L163.8,252.2 L164.5,250.7 L165.2,251 L166,252.1 L166.8,253.5 L167.7,257.9 L168.5,255.4 L169.8,255.6 L171,254.3 L172.2,258.9 L173.5,258.2 L174.5,255.8 L175.5,258.3 L176.5,256 L177.5,260.4 L178.3,257.6 L179.2,258.4 L180,260.9 L180.8,260.5 L181.7,265.3 L182.5,261 L183.5,263.3 L184.5,261.9 L185,261.9 L185.6,263.5 L186.1,268.2 L186.7,262.5 L187.2,266.3 L188,266.3 L188.9,270.2 L189.8,267.5 L190.6,269.5 L191.9,268.3 L193.3,272.2 L194.2,270.9 L195.1,269.1 L196,265.7 L196.8,269.3 L197.7,269.4 L198.5,270.4 L199.3,269.1 L200,270.9 L200.7,270.2 L201.3,274.6 L202,273.3 L202.3,277.1 L202.6,275.1 L202.9,278.8 L203.1,277.9 L203.4,277.7 L203.7,280.2 L204,282.9 L204.3,283 L204.6,282.2 L204.9,280.5 L205.1,284.1 L205.4,286.8 L205.7,283.6 L206,288.5 L206.6,289.8 L207.1,294 L207.6,292.8 L208.2,291.8 L208.9,292.8 L209.7,292.4 L210.4,291.9 L210.9,294.3 L211.5,290.4 L212,291.9 L212.5,296 L213,292.1 L213.5,295.7 L214,295.7 L214.5,296.2 L215,299.7 L215.5,300.3 L216,299 L216.5,302.8 L217,303.4 L217.9,301.7 L218.8,306.1 L219.6,303.3 L220.5,305.4 L221.4,303 L221.7,302.2 L222.1,306.4 L222.4,305.8 L222.7,310.5 L223.1,310.8 L223.4,308.8 L223.7,308.1 L224,308 L224.4,315 L224.7,316.5 L225.3,317.2 L226,316.3 L226.6,321 L227.2,317 L227.8,322.1 L228.5,323.7 L229.1,322.8 L229.7,322.5 L230.4,322.4 L231,325.7 L231.6,327.3 L232.2,324.3 L232.9,327.9 L233.5,329.4 L234.3,328.9 L235.2,328.4 L236,329 L236.8,330.4 L237.2,331.4 L237.7,333.7 L238.2,330.7 L238.6,337.2 L239.2,336.5 L239.8,339.9 L240.5,338.2 L241.1,339 L241.7,337.9 L241.8,344.4 L241.9,341.4 L241.9,342.6 L242,343.3 L242.1,344.2 L242.2,349.8 L242.3,345.9 L242.5,348.6 L242.6,352.7 L242.8,350.5 L242.9,351.4 L243.1,353.5 L243.3,350.8 L243.5,355.3" fill="none" stroke="#4aa050" stroke-width="1.0" stroke-linejoin="round" stroke-linecap="butt" stroke-dasharray="1.6,1.8" stroke-opacity="0.9"/><path d="M94.2,235 L95.2,242.3 L96.2,236" fill="none" stroke="#4f9f98" stroke-width="1.0" stroke-linejoin="round" stroke-linecap="butt"/><path d="M130,244 L131,248.9 L132,244.5" fill="none" stroke="#4f9f98" stroke-width="1.0" stroke-linejoin="round" stroke-linecap="butt"/><path d="M139.2,242 L139.7,240.2 L140.3,242" fill="none" stroke="#4f9f98" stroke-width="1.0" stroke-linejoin="round" stroke-linecap="butt"/><path d="M54.3,229.5 L54.3,246.3" fill="none" stroke="#1a1a1a" stroke-width="1.6" stroke-linejoin="round" stroke-linecap="butt"/><path d="M57,230.5 L57,249" fill="none" stroke="#1a1a1a" stroke-width="1.6" stroke-linejoin="round" stroke-linecap="butt"/><path d="M60.6,232 L60.6,249.7" fill="none" stroke="#1a1a1a" stroke-width="1.6" stroke-linejoin="round" stroke-linecap="butt"/><path d="M55.5,231 L55.8,244" fill="none" stroke="#3f8f48" stroke-width="1.0" stroke-linejoin="round" stroke-linecap="butt"/><path d="M200.7,266.5 L200.7,271" fill="none" stroke="#1a1a1a" stroke-width="1.0" stroke-linejoin="round" stroke-linecap="butt"/><path d="M210.4,287.7 L210.4,292" fill="none" stroke="#1a1a1a" stroke-width="1.0" stroke-linejoin="round" stroke-linecap="butt"/><path d="M231.3,319.6 L231.3,325" fill="none" stroke="#1a1a1a" stroke-width="1.0" stroke-linejoin="round" stroke-linecap="butt"/><path d="M240.4,341.7 L240.4,353" fill="none" stroke="#1a1a1a" stroke-width="1.3" stroke-linejoin="round" stroke-linecap="butt"/><rect x="53" y="280" width="130.8" height="49.2" fill="#fff" stroke="#e0e0e0" stroke-width="0.9"/><line x1="59.5" y1="287" x2="69.2" y2="287" stroke="#4a6590" stroke-width="1.1" stroke-dasharray="2,1.3"/><text x="71.2" y="288.6" font-size="5.5" fill="#000" stroke="#000" stroke-width="0.26">k-means-CNN-WNN-WBILSTM-AM</text><line x1="59.5" y1="295.2" x2="69.2" y2="295.2" stroke="#dc9a50" stroke-width="1.1" stroke-dasharray="2,1.3"/><text x="71.2" y="296.9" font-size="5.5" fill="#000" stroke="#000" stroke-width="0.26">DBSCAN-CNN-WNN-WBILSTM-AM</text><line x1="59.5" y1="303.5" x2="69.2" y2="303.5" stroke="#5aa05a" stroke-width="1.1" stroke-dasharray="2,1.3"/><text x="71.2" y="305.1" font-size="5.5" fill="#000" stroke="#000" stroke-width="0.26">FCM-CNN-WNN-WBILSTM-AM (Adagrad)</text><line x1="59.5" y1="312" x2="69.2" y2="312" stroke="#b85068" stroke-width="1.1" stroke-dasharray="2,1.3"/><text x="71.2" y="313.6" font-size="5.5" fill="#000" stroke="#000" stroke-width="0.26">FCM-CNN-WNN-WBILSTM-AM (RMSProp)</text><line x1="59.5" y1="320.5" x2="69.2" y2="320.5" stroke="#333" stroke-width="1.3"/><text x="71.2" y="322.1" font-size="5.5" fill="#000" stroke="#000" stroke-width="0.26">True</text><text transform="translate(11.8,286) rotate(-90)" font-size="6.2" text-anchor="middle" fill="#000" stroke="#000" stroke-width="0.26">SOH</text><text x="140" y="385.3" font-size="6.45" text-anchor="middle" fill="#000" stroke="#000" stroke-width="0.26">Discharge Cycles</text><text x="0.4" y="203.4" font-size="10.4" fill="#000" stroke="#000" stroke-width="0.2">C</text></g>
<g id="pD"><line x1="298.5" y1="230.4" x2="298.5" y2="368.9" stroke="#dcdcdc" stroke-width="1"/><text x="298.5" y="374.8" font-size="6.3" text-anchor="middle" fill="#000" stroke="#000" stroke-width="0.26">0</text><line x1="338.5" y1="230.4" x2="338.5" y2="368.9" stroke="#dcdcdc" stroke-width="1"/><text x="338.5" y="374.8" font-size="6.3" text-anchor="middle" fill="#000" stroke="#000" stroke-width="0.26">200</text><line x1="378.8" y1="230.4" x2="378.8" y2="368.9" stroke="#dcdcdc" stroke-width="1"/><text x="378.8" y="374.8" font-size="6.3" text-anchor="middle" fill="#000" stroke="#000" stroke-width="0.26">400</text><line x1="417" y1="230.4" x2="417" y2="368.9" stroke="#dcdcdc" stroke-width="1"/><text x="417" y="374.8" font-size="6.3" text-anchor="middle" fill="#000" stroke="#000" stroke-width="0.26">600</text><line x1="458.1" y1="230.4" x2="458.1" y2="368.9" stroke="#dcdcdc" stroke-width="1"/><text x="458.1" y="374.8" font-size="6.3" text-anchor="middle" fill="#000" stroke="#000" stroke-width="0.26">800</text><line x1="497.7" y1="230.4" x2="497.7" y2="368.9" stroke="#dcdcdc" stroke-width="1"/><text x="497.7" y="374.8" font-size="6.3" text-anchor="middle" fill="#000" stroke="#000" stroke-width="0.26">1000</text><line x1="286.9" y1="235" x2="506.2" y2="235" stroke="#dcdcdc" stroke-width="1"/><text x="285.9" y="236.9" font-size="6.3" text-anchor="end" fill="#000" stroke="#000" stroke-width="0.26">1.0</text><line x1="286.9" y1="267.2" x2="506.2" y2="267.2" stroke="#dcdcdc" stroke-width="1"/><text x="285.9" y="269.1" font-size="6.3" text-anchor="end" fill="#000" stroke="#000" stroke-width="0.26">0.8</text><line x1="286.9" y1="299.7" x2="506.2" y2="299.7" stroke="#dcdcdc" stroke-width="1"/><text x="285.9" y="301.6" font-size="6.3" text-anchor="end" fill="#000" stroke="#000" stroke-width="0.26">0.6</text><line x1="286.9" y1="331.8" x2="506.2" y2="331.8" stroke="#dcdcdc" stroke-width="1"/><text x="285.9" y="333.7" font-size="6.3" text-anchor="end" fill="#000" stroke="#000" stroke-width="0.26">0.4</text><line x1="286.9" y1="364.3" x2="506.2" y2="364.3" stroke="#dcdcdc" stroke-width="1"/><text x="285.9" y="366.2" font-size="6.3" text-anchor="end" fill="#000" stroke="#000" stroke-width="0.26">0.2</text><rect x="289.4" y="230.4" width="216.8" height="136" fill="none" stroke="#d4d4d4" stroke-width="1"/><path d="M298.7,236.1 L307.5,242.8 L316.9,248.8 L327.6,253.6 L338.4,254.2 L345,253.4 L354,252.8 L363.8,254 L373.5,257.4 L383.1,261.2 L392.5,264 L405,266.3 L417.5,267.6 L426.7,268.4 L434.8,271.2 L440.3,274.5 L445.5,279.1 L450.7,284.8 L455.8,291 L461,298.2 L468,309.5 L474.4,319.1 L480,328.5 L486,338.4 L491.5,349 L497,359.8" fill="none" stroke="#c0384c" stroke-width="1.15" stroke-linejoin="round" stroke-linecap="butt" stroke-dasharray="3,1.8"/><path d="M325,248.8 L325.8,250.1 L326.6,252.1 L327.4,252 L328.2,252 L329,251.5 L330,251.8 L331,251.9 L332,251.5 L333,251.7 L334,250.9 L335.1,251.6 L336.1,250.8 L337.1,251.5 L338.2,251.6 L339.3,252.1 L340.3,251.8 L341.4,251.4 L342.5,251 L343.6,252.2 L344.6,253 L345.7,254.6 L346.7,254.2 L347.8,254.2 L348.9,253.4 L350,253.5 L351,253 L352.1,254.1 L353.2,255.1 L354.3,256.8 L355.4,257.1 L356.4,256.3 L357.5,254.5 L358.6,254.3 L359.7,254.8 L360.9,255.4 L362,254.4 L363.1,254.6 L364.3,255.8 L365.4,256.3 L366.4,256.3 L367.4,256.5 L368.4,257.5 L369.4,257.9 L370.4,258.2 L371.4,257.5 L372.5,258.4 L373.5,258.6 L374.6,259.4 L375.6,258.9 L376.7,259.1 L377.7,258.7 L378.8,260.1 L379.9,259.2 L381,259.9 L382,259.6 L383.1,260.4 L384.2,261 L385.2,261.1 L386.2,262 L387.3,261.8 L388.3,261.9 L389.2,259.7 L390.2,259.4 L391.1,258.6 L392.1,259.1 L393,258.6 L393.7,258.6 L394.3,258.1 L395,257.8 L395.6,258.8 L396.3,260.9 L397.3,260.3 L398.4,260.6 L399.4,260.5 L400.4,261.4 L401.1,259.8 L401.8,258 L402.4,257.5 L403.1,257.7 L403.6,259 L404,259.8 L404.5,261 L404.9,261.8 L405.4,263.5 L405.8,263.2 L406.7,265.2 L407.6,264.5 L408.5,266.5 L409.3,264.7 L410.1,263.8 L411,262.4 L411.8,261.8 L412.4,263.8 L412.9,264.9 L413.5,265.5 L414.1,266.1 L414.6,267.1 L415.2,268.8 L416.2,269.9 L417.2,270.8 L418.2,271 L419.2,272.1 L420.1,272.5 L421.1,273 L422,271.2 L423.1,269.2 L424.3,267.3 L425.4,267.4 L426.1,269.6 L426.8,270.8 L427.4,271.8 L428.1,271.6 L429.1,271.3 L430.1,271.2 L431.1,271.4 L432.1,272.4 L433.5,272.5 L434.8,272.4 L435.5,273.6 L436.1,273.8 L436.8,275.5 L437.5,276.7 L438.1,278.1 L438.8,278.2 L439.9,277.3 L441.1,276.5 L442.2,276.8 L442.9,276.2 L443.5,276.7 L444.2,276.3 L444.9,276.9 L445.5,277 L446.2,277.6 L446.9,277 L447.6,276.1 L447.8,276.7 L448,278.3 L448.2,279 L448.3,280.3 L448.5,281.7 L448.7,283.1 L448.9,284 L449.2,284.7 L449.6,286.4 L449.9,288.1 L450.3,289.2 L450.6,290.5 L451,290.7 L451.5,292.3 L452,292.7 L452.5,293.9 L453,293.3 L453.4,294.7 L453.9,296 L454.4,298 L454.9,298.9 L455.4,299.6 L455.9,298.6 L456.5,297.2 L457.1,297.2 L457.6,295.9 L458.6,297.4 L459.7,297.3 L460.3,298.1 L461,297.7 L461.6,298.5 L462.2,300.3 L462.8,301.7 L463.5,303.1 L464.1,303.2 L465.2,303.9 L466.3,303.9 L467.4,304.3 L467.7,305.4 L468.1,306.5 L468.4,307.7 L468.7,308.2 L469,309.3 L469.4,309.8 L469.7,310.6 L470,312.2 L470.4,314.2 L470.7,314.7 L471.5,315.5 L472.3,316.3 L473.1,317 L473.8,317 L474.6,317.8 L475.4,319.8 L476.2,321.5 L476.8,321 L477.3,319.9 L477.6,321.3 L478,321.4 L478.3,322.1 L478.6,321.9 L479,323 L479.3,323.8 L479.6,324.9 L479.9,326.1 L480.3,327.5 L480.6,328.6 L481.2,329.2 L481.9,329.9 L482.5,331.2 L483.1,331.5 L483.7,332.4 L484.4,332.8 L485,334.1 L485.6,334.4 L486.1,336.6 L486.6,336.7 L487.2,338.4 L487.8,337.8 L488.3,340.3 L488.8,340.2 L489.4,342 L490,342 L490.7,344 L491.3,344 L491.9,344.8 L492.5,345.5 L493.2,347.6 L493.8,348.3 L494.2,348.1 L494.6,348.4 L495,349.3 L495.4,351.3 L495.8,352.2 L496.2,352.9 L496.6,353.5" fill="none" stroke="#3f8f48" stroke-width="1.1" stroke-linejoin="round" stroke-linecap="butt"/><path d="M325,248.6 L325.8,249.4 L326.6,250.6 L327.4,251.5 L328.2,251.6 L329,252.3 L330,252.1 L331,252.5 L332,252.2 L333,252.3 L334,252.7 L335.1,252.8 L336.1,252.6 L337.1,251.5 L338.2,250.9 L339.3,251.1 L340.3,252.2 L341.4,252.8 L342.5,252.8 L343.6,252.6 L344.6,252 L345.7,252 L346.7,252.2 L347.8,253.4 L348.9,253.8 L350,254.2 L351,254.3 L352.1,255.2 L353.2,254.9 L354.3,255.2 L355.4,254.2 L356.4,253.7 L357.5,253.2 L358.6,253.7 L359.7,255.2 L360.9,255.6 L362,255.3 L363.1,255.2 L364.3,254.3 L365.4,254.7 L366.4,254.8 L367.4,256 L368.4,257.1 L369.4,258.2 L370.4,258.7 L371.4,258.9 L372.5,259.2 L373.5,259 L374.6,258.7 L375.6,258.5 L376.7,259.3 L377.7,259.8 L378.8,261.4 L379.9,261.1 L381,260.9 L382,260.4 L383.1,261.7 L384.2,262.8 L385.2,262.5 L386.2,262.1 L387.3,261.5 L388.3,260.2 L389.2,258.6 L390.2,258.4 L391.1,257.7 L392.1,257.3 L393,256.3 L393.7,257.6 L394.3,258.7 L395,259.7 L395.6,261.8 L396.3,262.5 L397.3,262 L398.4,260.6 L399.4,260 L400.4,260.7 L401.1,259.8 L401.8,259.3 L402.4,258.4 L403.1,257.5 L403.6,258.3 L404,258 L404.5,258.7 L404.9,259.5 L405.4,261.4 L405.8,263.4 L406.7,264.5 L407.6,265.4 L408.5,265.8 L409.3,265.5 L410.1,264.9 L411,264.1 L411.8,262.3 L412.4,263.3 L412.9,264.4 L413.5,266.4 L414.1,267 L414.6,268.8 L415.2,269 L416.2,270.5 L417.2,270.3 L418.2,270.9 L419.2,270.3 L420.1,269.7 L421.1,270.1 L422,270.5 L423.1,270.5 L424.3,268.4 L425.4,268 L426.1,268.8 L426.8,270.5 L427.4,270.7 L428.1,271.2 L429.1,272.8 L430.1,273.1 L431.1,273.4 L432.1,273.7 L433.5,273.7 L434.8,273.5 L435.5,273.8 L436.1,274.3 L436.8,275.5 L437.5,275.8 L438.1,277.7 L438.8,278.5 L439.9,279.8 L441.1,279.3 L442.2,279.7 L442.9,277.2 L443.5,276.1 L444.2,274.7 L444.9,277.2 L445.5,277.6 L446.2,279.1 L446.9,277.5 L447.6,278 L447.8,278.9 L448,279.7 L448.2,279.8 L448.3,279.9 L448.5,281.1 L448.7,282.3 L448.9,284.8 L449.2,285.5 L449.6,286.7 L449.9,286.1 L450.3,287.2 L450.6,288.2 L451,290.3 L451.5,292.1 L452,293 L452.5,293 L453,293.5 L453.4,294.8 L453.9,296.5 L454.4,296.9 L454.9,298.2 L455.4,298.9 L455.9,298.5 L456.5,297.6 L457.1,296.8 L457.6,295.5 L458.6,296.9 L459.7,297.8 L460.3,298.4 L461,298.4 L461.6,299.9 L462.2,301 L462.8,302.1 L463.5,302.9 L464.1,303.6 L465.2,303.2 L466.3,303.6 L467.4,304.6 L467.7,306.2 L468.1,307.4 L468.4,308.6 L468.7,309.4 L469,310.2 L469.4,310.8 L469.7,311.6 L470,312.5 L470.4,313.6 L470.7,314.9 L471.5,315.8 L472.3,316.8 L473.1,317.7 L473.8,318.4 L474.6,319.4 L475.4,320.1 L476.2,320.9 L476.8,319.3 L477.3,319.6 L477.6,319.6 L478,320.9 L478.3,320.7 L478.6,322.5 L479,324 L479.3,325.2 L479.6,327.3 L479.9,327.2 L480.3,328.3 L480.6,328 L481.2,328.7 L481.9,329.3 L482.5,330.2 L483.1,331.4 L483.7,331.2 L484.4,333.1 L485,333.7 L485.6,336.4 L486.1,336 L486.6,337.1 L487.2,338.7 L487.8,339.8 L488.3,339.9 L488.8,339.1 L489.4,340.7 L490,342.6 L490.7,344.4 L491.3,345 L491.9,344.9 L492.5,345 L493.2,346.7 L493.8,348.6 L494.2,348.8 L494.6,349.2 L495,350.6 L495.4,353.4 L495.8,354.6 L496.2,355.1 L496.6,355.2" fill="none" stroke="#d08a40" stroke-width="0.7" stroke-linejoin="round" stroke-linecap="butt" stroke-opacity="0.85"/><path d="M325,250.1 L325.8,250.8 L326.6,251.3 L327.4,251.6 L328.2,251.4 L329,251.3 L330,251.6 L331,252.7 L332,253.1 L333,252.1 L334,252.1 L335.1,251.1 L336.1,251.4 L337.1,250.3 L338.2,251.3 L339.3,252.1 L340.3,251.9 L341.4,251.7 L342.5,251.5 L343.6,251.8 L344.6,252 L345.7,252.1 L346.7,252.2 L347.8,251.8 L348.9,252 L350,253 L351,254.1 L352.1,255.5 L353.2,256.5 L354.3,256.7 L355.4,255.5 L356.4,255.6 L357.5,255.2 L358.6,256.4 L359.7,256.4 L360.9,255.7 L362,254.3 L363.1,253.5 L364.3,254.1 L365.4,253.9 L366.4,254.1 L367.4,255.3 L368.4,256.3 L369.4,256.9 L370.4,256.7 L371.4,257.8 L372.5,259.6 L373.5,260.1 L374.6,259.7 L375.6,258.9 L376.7,258.9 L377.7,259.6 L378.8,260.8 L379.9,261.9 L381,261.8 L382,261.9 L383.1,261.9 L384.2,262.5 L385.2,260.6 L386.2,259.9 L387.3,259.2 L388.3,260.7 L389.2,259.9 L390.2,259.5 L391.1,258.4 L392.1,258.4 L393,257.9 L393.7,259 L394.3,260 L395,260.9 L395.6,261.6 L396.3,261.6 L397.3,261.2 L398.4,261.8 L399.4,262 L400.4,262.2 L401.1,260.3 L401.8,259.3 L402.4,256.8 L403.1,256.8 L403.6,257.2 L404,259.2 L404.5,259.9 L404.9,260.2 L405.4,261.5 L405.8,261.6 L406.7,262.7 L407.6,263.9 L408.5,264.7 L409.3,264.6 L410.1,263.3 L411,263.1 L411.8,263.4 L412.4,264 L412.9,265.1 L413.5,264.7 L414.1,266.2 L414.6,265.9 L415.2,266.7 L416.2,267.4 L417.2,269.3 L418.2,270.6 L419.2,271.8 L420.1,271.2 L421.1,270 L422,269.9 L423.1,269 L424.3,269.7 L425.4,268.6 L426.1,269.7 L426.8,270.5 L427.4,270.4 L428.1,272 L429.1,272.3 L430.1,274.3 L431.1,274 L432.1,274.5 L433.5,273 L434.8,272.4 L435.5,272.3 L436.1,273.7 L436.8,275.5 L437.5,276.6 L438.1,277.2 L438.8,277.2 L439.9,278.4 L441.1,279.1 L442.2,279.1 L442.9,277.6 L443.5,276.1 L444.2,274.9 L444.9,275.8 L445.5,276.8 L446.2,278.1 L446.9,277.3 L447.6,276.2 L447.8,277.6 L448,278.6 L448.2,280.2 L448.3,280.3 L448.5,281.1 L448.7,281.9 L448.9,283.7 L449.2,285 L449.6,286.7 L449.9,287.5 L450.3,289.3 L450.6,290.2 L451,291.6 L451.5,292.2 L452,292.7 L452.5,293.3 L453,293.5 L453.4,294 L453.9,294.7 L454.4,296 L454.9,296.9 L455.4,297.7 L455.9,296.9 L456.5,296.8 L457.1,295.9 L457.6,293.9 L458.6,294 L459.7,294.8 L460.3,296.1 L461,296.7 L461.6,298.1 L462.2,299.8 L462.8,302.4 L463.5,302.8 L464.1,302.8 L465.2,302.4 L466.3,303.7 L467.4,305.8 L467.7,307.5 L468.1,308.2 L468.4,307.5 L468.7,308.1 L469,309.2 L469.4,311.8 L469.7,312.5 L470,313.6 L470.4,313.4 L470.7,314.5 L471.5,315.8 L472.3,316.8 L473.1,317.7 L473.8,317.7 L474.6,319.3 L475.4,319.9 L476.2,321.3 L476.8,319.9 L477.3,318.4 L477.6,318.6 L478,320 L478.3,321.3 L478.6,322.3 L479,322.4 L479.3,324.3 L479.6,325.8 L479.9,327.7 L480.3,326.8 L480.6,328.8 L481.2,329.1 L481.9,331.6 L482.5,331.2 L483.1,331.9 L483.7,332.5 L484.4,334.3 L485,335.2 L485.6,335.4 L486.1,335.9 L486.6,337.8 L487.2,338.4 L487.8,338.5 L488.3,338.8 L488.8,340.2 L489.4,340.5 L490,341.1 L490.7,342.4 L491.3,344.7 L491.9,346.3 L492.5,346.5 L493.2,346.9 L493.8,347.1 L494.2,348.9 L494.6,349.7 L495,350.7 L495.4,351.1 L495.8,352.8 L496.2,354.3 L496.6,356.1" fill="none" stroke="#3f7f9a" stroke-width="0.7" stroke-linejoin="round" stroke-linecap="butt" stroke-opacity="0.8"/><path d="M325,247.5 L325.8,250.4 L326.6,250.9 L327.4,250.7 L328.2,252.1 L329,253.2 L330,252.8 L331,252.7 L332,253.2 L333,253.4 L334,253.9 L335.1,251.7 L336.1,250.8 L337.1,252.3 L338.2,251.3 L339.3,250.8 L340.3,254 L341.4,253.1 L342.5,251.8 L343.6,251.9 L344.6,253 L345.7,252.8 L346.7,253.3 L347.8,252.8 L348.9,251.1 L350,251.5 L351,255.3 L352.1,254.8 L353.2,252.3 L354.3,255.4 L355.4,255.5 L356.4,256.2 L357.5,255.5 L358.6,256 L359.7,254.4 L360.9,253.4 L362,254.9 L363.1,255.2 L364.3,254.5 L365.4,252.9 L366.4,254.9 L367.4,255.3 L368.4,257.6 L369.4,256 L370.4,256.6 L371.4,257.3 L372.5,258.6 L373.5,260.1 L374.6,259.6 L375.6,257.6 L376.7,258.4 L377.7,261.7 L378.8,260.4 L379.9,260.2 L381,261.2 L382,261.7 L383.1,263.2 L384.2,261.7 L385.2,260.3 L386.2,259.7 L387.3,261.7 L388.3,260.2 L389.2,259.7 L390.2,259.4 L391.1,256.9 L392.1,259.4 L393,256.5 L393.7,257.4 L394.3,258.1 L395,259.4 L395.6,259.6 L396.3,260.5 L397.3,261.6 L398.4,262.5 L399.4,261.8 L400.4,259.5 L401.1,259.6 L401.8,260.9 L402.4,258.3 L403.1,257.6 L403.6,258.1 L404,261.1 L404.5,259.7 L404.9,260.5 L405.4,263.2 L405.8,261 L406.7,263.2 L407.6,267.7 L408.5,265.6 L409.3,265.2 L410.1,261.5 L411,262.9 L411.8,261 L412.4,262.3 L412.9,263.3 L413.5,265.3 L414.1,265.9 L414.6,268.4 L415.2,265.6 L416.2,268.1 L417.2,270.5 L418.2,270.7 L419.2,272.6 L420.1,269.9 L421.1,271.2 L422,270.1 L423.1,267.6 L424.3,266.7 L425.4,270.7 L426.1,270.6 L426.8,270.3 L427.4,270 L428.1,269.6 L429.1,271.8 L430.1,272.9 L431.1,275.2 L432.1,273.4 L433.5,273.3 L434.8,273 L435.5,275.3 L436.1,276.8 L436.8,278.1 L437.5,276.8 L438.1,278.6 L438.8,277.4 L439.9,277.5 L441.1,277.7 L442.2,278.9 L442.9,274.4 L443.5,276.2 L444.2,277.5 L444.9,277.6 L445.5,279.2 L446.2,277.9 L446.9,277.9 L447.6,275.4 L447.8,279.5 L448,278.2 L448.2,279.2 L448.3,279.5 L448.5,282.1 L448.7,284.7 L448.9,283.9 L449.2,284.8 L449.6,285.4 L449.9,288.3 L450.3,288.1 L450.6,289.6 L451,290.1 L451.5,291.2 L452,292.8 L452.5,293.7 L453,292.2 L453.4,294.8 L453.9,295.6 L454.4,297.4 L454.9,299.2 L455.4,297.9 L455.9,296.9 L456.5,294.9 L457.1,294.8 L457.6,295.9 L458.6,294.8 L459.7,298.1 L460.3,297.5 L461,298.2 L461.6,299.5 L462.2,299.6 L462.8,301.6 L463.5,302.1 L464.1,300.8 L465.2,302.8 L466.3,305.1 L467.4,304.9 L467.7,303.6 L468.1,308.4 L468.4,309.9 L468.7,307.7 L469,310.2 L469.4,312.1 L469.7,312.7 L470,313.9 L470.4,312.3 L470.7,316.3 L471.5,315.5 L472.3,316 L473.1,318 L473.8,319.4 L474.6,320.1 L475.4,319 L476.2,321 L476.8,317.7 L477.3,319.4 L477.6,318.4 L478,319.4 L478.3,322.3 L478.6,322.7 L479,322.4 L479.3,325.1 L479.6,327.5 L479.9,324.6 L480.3,327.5 L480.6,328.5 L481.2,329.4 L481.9,330.1 L482.5,331.9 L483.1,332.4 L483.7,332.4 L484.4,334.2 L485,333.3 L485.6,336.9 L486.1,335.8 L486.6,336.4 L487.2,338.3 L487.8,337.4 L488.3,338.1 L488.8,339.6 L489.4,343.1 L490,343.1 L490.7,342.5 L491.3,344.1 L491.9,345.2 L492.5,345.3 L493.2,346.5 L493.8,346.8 L494.2,347.3 L494.6,348.9 L495,352.3 L495.4,352.5 L495.8,352.5 L496.2,354.1 L496.6,353.3" fill="none" stroke="#55a050" stroke-width="1.0" stroke-linejoin="round" stroke-linecap="butt"/><path d="M325,249.3 L325.8,250.2 L326.6,251.2 L327.4,251.7 L328.2,252.3 L329,252.9 L330,252.9 L331,252.5 L332,252.8 L333,253 L334,253.1 L335.1,252.8 L336.1,252.6 L337.1,252.3 L338.2,251.8 L339.3,251.8 L340.3,251.6 L341.4,252.2 L342.5,252.2 L343.6,252.6 L344.6,251.7 L345.7,251.8 L346.7,252.4 L347.8,253.4 L348.9,252.8 L350,253.1 L351,253.5 L352.1,254.7 L353.2,254.7 L354.3,254.2 L355.4,254.8 L356.4,255.2 L357.5,255.4 L358.6,255.5 L359.7,254.9 L360.9,255.5 L362,254.5 L363.1,254.7 L364.3,254.3 L365.4,255.3 L366.4,255.6 L367.4,256.1 L368.4,256.5 L369.4,258 L370.4,258.6 L371.4,258.4 L372.5,258.1 L373.5,257.9 L374.6,258.7 L375.6,259.4 L376.7,260.5 L377.7,260.7 L378.8,260.9 L379.9,261.3 L381,260.9 L382,261.7 L383.1,261.7 L384.2,262 L385.2,260.7 L386.2,260.2 L387.3,260.4 L388.3,260.6 L389.2,260.4 L390.2,260.2 L391.1,259.6 L392.1,258.9 L393,257.7 L393.7,258 L394.3,258.3 L395,258.8 L395.6,260.2 L396.3,260.8 L397.3,261.6 L398.4,261 L399.4,261.1 L400.4,260.1 L401.1,259.2 L401.8,258.7 L402.4,258.1 L403.1,258.2 L403.6,259 L404,260.2 L404.5,260.7 L404.9,261.9 L405.4,261.7 L405.8,262.5 L406.7,263.3 L407.6,264.6 L408.5,265.6 L409.3,265.1 L410.1,264.9 L411,263.8 L411.8,262.1 L412.4,263.1 L412.9,263.8 L413.5,265.3 L414.1,265.9 L414.6,266.9 L415.2,267.9 L416.2,268.7 L417.2,269 L418.2,269.9 L419.2,270.9 L420.1,271.4 L421.1,270 L422,269.4 L423.1,269.1 L424.3,269.4 L425.4,268.8 L426.1,269.7 L426.8,270.2 L427.4,270.7 L428.1,271.1 L429.1,271.5 L430.1,272.1 L431.1,273 L432.1,273.4 L433.5,273.9 L434.8,273 L435.5,274.2 L436.1,274.6 L436.8,275.9 L437.5,276.8 L438.1,277.8 L438.8,278.6 L439.9,278.3 L441.1,277.8 L442.2,277.1 L442.9,275.9 L443.5,275.8 L444.2,275 L444.9,276.9 L445.5,277.1 L446.2,279 L446.9,278 L447.6,277.6 L447.8,278.1 L448,279.3 L448.2,279.8 L448.3,280.3 L448.5,281.5 L448.7,283.1 L448.9,284.7 L449.2,285.3 L449.6,285.9 L449.9,286.5 L450.3,287.4 L450.6,288.6 L451,290.3 L451.5,291.3 L452,291.8 L452.5,291.9 L453,292.6 L453.4,293.7 L453.9,295.4 L454.4,297 L454.9,298.7 L455.4,299.2 L455.9,297.3 L456.5,296.2 L457.1,294.5 L457.6,293.7 L458.6,293.5 L459.7,295.3 L460.3,296.2 L461,298.3 L461.6,299 L462.2,300 L462.8,300.5 L463.5,301.5 L464.1,302.5 L465.2,302.7 L466.3,303.3 L467.4,304.1 L467.7,305.8 L468.1,307.5 L468.4,308.8 L468.7,309.8 L469,310.4 L469.4,310.9 L469.7,311.9 L470,312.6 L470.4,314 L470.7,314.6 L471.5,315.8 L472.3,316.8 L473.1,317.4 L473.8,318.4 L474.6,318.6 L475.4,319.6 L476.2,320.2 L476.8,319.8 L477.3,319.4 L477.6,320.3 L478,320.3 L478.3,320.9 L478.6,321.5 L479,322.6 L479.3,323.6 L479.6,325.5 L479.9,326.4 L480.3,327.2 L480.6,328 L481.2,328.3 L481.9,329.2 L482.5,330.1 L483.1,331.4 L483.7,333.1 L484.4,334.4 L485,334.8 L485.6,334.9 L486.1,335 L486.6,336.1 L487.2,336.6 L487.8,338.1 L488.3,339.3 L488.8,340.8 L489.4,341.9 L490,343.1 L490.7,343.6 L491.3,343.6 L491.9,343.9 L492.5,345.3 L493.2,346.4 L493.8,348.1 L494.2,348.9 L494.6,350.2 L495,351.6 L495.4,352.4 L495.8,353 L496.2,353.3 L496.6,354.4" fill="none" stroke="#23261a" stroke-width="0.95" stroke-linejoin="round" stroke-linecap="butt" stroke-opacity="0.9"/><path d="M325,250.3 L325.8,248.3 L326.6,247.1 L327.4,249.2 L328.2,252.4 L329,255.3 L330,248.5 L331,250.1 L332,253.1 L333,252.4 L334,250.4 L335.1,255.2 L336.1,252.3 L337.1,250.6 L338.2,253.8 L339.3,250.6 L340.3,256.5 L341.4,251.1 L342.5,256.7 L343.6,255.3 L344.6,251.3 L345.7,252.8 L346.7,252 L347.8,253.1 L348.9,253.3 L350,251.2 L351,255.2 L352.1,255.4 L353.2,251.4 L354.3,254.9 L355.4,255 L356.4,256.3 L357.5,255 L358.6,256.2 L359.7,253.4 L360.9,258.8 L362,255.9 L363.1,256.6 L364.3,255.1 L365.4,253.5 L366.4,256.6 L367.4,257.1 L368.4,254.4 L369.4,255.5 L370.4,257.5 L371.4,257.5 L372.5,258.3 L373.5,259.8 L374.6,257.3 L375.6,258.7 L376.7,259.7 L377.7,257.3 L378.8,259.1 L379.9,259.9 L381,260 L382,260.8 L383.1,264.4 L384.2,263.8 L385.2,261.2 L386.2,260.9 L387.3,260.3 L388.3,258.9 L389.2,258.7 L390.2,261.3 L391.1,258.6 L392.1,257.3 L393,256.5 L393.7,257.2 L394.3,258.7 L395,257.4 L395.6,261.8 L396.3,261.9 L397.3,260.3 L398.4,260 L399.4,258.3 L400.4,263.3 L401.1,261.4 L401.8,256.3 L402.4,255.3 L403.1,258.1 L403.6,259.6 L404,260.9 L404.5,259.8 L404.9,262.1 L405.4,262.6 L405.8,263.1 L406.7,265.7 L407.6,264.4 L408.5,264.4 L409.3,267.4 L410.1,263.2 L411,258.8 L411.8,262.8 L412.4,262.9 L412.9,264.3 L413.5,267.2 L414.1,265.4 L414.6,269.7 L415.2,268.5 L416.2,273.2 L417.2,267.6 L418.2,274.1 L419.2,273.6 L420.1,269.2 L421.1,269.9 L422,270.2 L423.1,273.7 L424.3,268.7 L425.4,267.8 L426.1,269.4 L426.8,270.3 L427.4,269.3 L428.1,266.6 L429.1,274.5 L430.1,276.2 L431.1,271.4 L432.1,276.4 L433.5,274.8 L434.8,270.7 L435.5,272.2 L436.1,279.4 L436.8,276.3 L437.5,276.9 L438.1,277.8 L438.8,276.8 L439.9,275.6 L441.1,278 L442.2,277.1 L442.9,277.3 L443.5,278.6 L444.2,272.6 L444.9,274.3 L445.5,280.4 L446.2,278.9 L446.9,278 L447.6,278.3 L447.8,278.9 L448,280.6 L448.2,279.6 L448.3,283.5 L448.5,281.6 L448.7,283.8 L448.9,283.1 L449.2,286.4 L449.6,284.1 L449.9,293.1 L450.3,284.6 L450.6,286.8 L451,286.4 L451.5,286.5 L452,289.7 L452.5,293 L453,293.7 L453.4,296.3 L453.9,297.7 L454.4,295.5 L454.9,295.1 L455.4,294.9 L455.9,296.4 L456.5,296.4 L457.1,294.6 L457.6,291.1 L458.6,297.5 L459.7,295.7 L460.3,299.6 L461,300.5 L461.6,299.4 L462.2,299.6 L462.8,302.6 L463.5,298.5 L464.1,305.5 L465.2,304.9 L466.3,306.4 L467.4,306.7 L467.7,308 L468.1,309.1 L468.4,307.8 L468.7,311.4 L469,307.6 L469.4,308.7 L469.7,311 L470,313.4 L470.4,313.1 L470.7,316.9 L471.5,315.1 L472.3,317.8 L473.1,319.3 L473.8,318 L474.6,320.5 L475.4,319.8 L476.2,321.1 L476.8,316.3 L477.3,317.8 L477.6,319.5 L478,318.1 L478.3,325.2 L478.6,322.9 L479,324 L479.3,323.9 L479.6,325.5 L479.9,329.5 L480.3,325.3 L480.6,330.5 L481.2,332.5 L481.9,333.2 L482.5,330.2 L483.1,331.6 L483.7,331.2 L484.4,333.2 L485,336.1 L485.6,336.2 L486.1,339.2 L486.6,334.4 L487.2,339.4 L487.8,334.3 L488.3,342.7 L488.8,338.7 L489.4,344.9 L490,344.3 L490.7,341.2 L491.3,348.4 L491.9,347.3 L492.5,346.5 L493.2,347.8 L493.8,348.8 L494.2,347.9 L494.6,353.8 L495,351.6 L495.4,353.4 L495.8,351.9 L496.2,351.6 L496.6,357.1" fill="none" stroke="#4aa050" stroke-width="1.0" stroke-linejoin="round" stroke-linecap="butt" stroke-dasharray="1.6,1.8" stroke-opacity="0.9"/><path d="M298.7,236.1 L299.4,237.4 L300,239 L300.7,239.5 L301.4,240.1 L302.2,240.1 L303.1,241.3 L303.9,242.3 L304.8,243 L306.1,243.8 L307.5,244.1 L308,243.6 L308.5,242.3 L309,241.8 L309.5,240.8 L310,241.9 L310.6,242.6 L311.1,243.2 L311.7,243.9 L312.2,245.4 L313.3,246.5 L314.4,248 L315.5,248.3 L316.6,248.7 L317.8,248.4 L318.9,248.7 L320,248.6 L321.2,249.5 L322.3,250.3 L323.2,250.7 L324.1,250.4 L325,249.4 L325.8,249.1 L326.6,249.7 L327.4,250.9 L328.2,252.1 L329,252.6" fill="none" stroke="#d08a40" stroke-width="1.5" stroke-linejoin="round" stroke-linecap="butt" stroke-opacity="0.95"/><path d="M299.1,237.3 L299.8,238.3 L300.4,239.5 L301.1,240.5 L301.8,241.1 L302.6,241.9 L303.5,242.7 L304.3,243.9 L305.2,244.7 L306.5,245.5 L307.9,246.6 L308.4,245.7 L308.9,244.7 L309.4,243.1 L309.9,241.6 L310.4,242.6 L311,244.1 L311.5,245.4 L312.1,246.2 L312.6,246.9 L313.7,247.2 L314.8,247.8 L315.9,248.4 L317,249.5 L318.2,250 L319.3,250.4 L320.4,250.7 L321.6,251.5 L322.7,251.5 L323.6,251.1 L324.5,249.9 L325.4,249 L326.2,249.5 L327,250.5 L327.8,252.4 L328.6,253.6 L329.4,254.9" fill="none" stroke="#23261a" stroke-width="1.3" stroke-linejoin="round" stroke-linecap="butt" stroke-opacity="0.9"/><path d="M298.5,236.2 L299.2,237.2 L299.9,238 L300.5,238.7 L301.2,239.1 L302.1,239.4 L302.9,240.6 L303.8,242.1 L304.6,243.3 L306,243.5 L307.3,244.2 L307.8,242.8 L308.3,242 L308.8,240.5 L309.3,240 L309.8,241.3 L310.4,242 L310.9,242.8 L311.5,243.6 L312,244.6 L313.1,245.3 L314.2,245.9 L315.3,246.6 L316.4,246.7 L317.6,247 L318.7,247.8 L319.8,248.7 L321,249.7 L322.1,250.5 L323,250.1 L323.9,248.8 L324.8,248.4 L325.6,248.9 L326.4,250.3 L327.2,251.2 L328,251.7 L328.8,252" fill="none" stroke="#c87a3a" stroke-width="0.9" stroke-linejoin="round" stroke-linecap="butt" stroke-opacity="0.9"/><path d="M299.4,245.5 L300.7,249.5 L302.7,248.2 L304.8,250.2 L307.5,250.9 L310.2,255.6 L312.8,262.3 L315.5,266.3 L317.6,269.7 L319.6,265.7 L322.3,267 L324.3,265 L326.3,267 L327.6,256.9 L329,253.6" fill="none" stroke="#4f9f98" stroke-width="1.1" stroke-linejoin="round" stroke-linecap="butt"/><path d="M351,255 L351.9,262.3 L352.8,256" fill="none" stroke="#4f9f98" stroke-width="1.0" stroke-linejoin="round" stroke-linecap="butt"/><path d="M383.4,261.5 L384.2,265.6 L385,262" fill="none" stroke="#4f9f98" stroke-width="1.0" stroke-linejoin="round" stroke-linecap="butt"/><path d="M415.8,269 L416.5,275 L417.3,270" fill="none" stroke="#4f9f98" stroke-width="1.0" stroke-linejoin="round" stroke-linecap="butt"/><path d="M315.5,248 L315.5,269" fill="none" stroke="#1a1a1a" stroke-width="1.3" stroke-linejoin="round" stroke-linecap="butt"/><path d="M322,250 L322,270.4" fill="none" stroke="#1a1a1a" stroke-width="1.3" stroke-linejoin="round" stroke-linecap="butt"/><path d="M446.9,276 L446.9,295.4" fill="none" stroke="#1a1a1a" stroke-width="1.3" stroke-linejoin="round" stroke-linecap="butt"/><path d="M497,334.9 L497,354.6" fill="none" stroke="#1a1a1a" stroke-width="1.3" stroke-linejoin="round" stroke-linecap="butt"/><rect x="306.8" y="306" width="134.8" height="46.7" fill="#fff" stroke="#e0e0e0" stroke-width="0.9"/><line x1="318.8" y1="314.5" x2="327.5" y2="314.5" stroke="#4a6590" stroke-width="1.1" stroke-dasharray="2,1.3"/><text x="329.5" y="316.1" font-size="5.5" fill="#000" stroke="#000" stroke-width="0.26">k-means-CNN-WNN-WBILSTM-AM</text><line x1="318.8" y1="321.8" x2="327.5" y2="321.8" stroke="#dc9a50" stroke-width="1.1" stroke-dasharray="2,1.3"/><text x="329.5" y="323.4" font-size="5.5" fill="#000" stroke="#000" stroke-width="0.26">DBSCAN-CNN-WNN-WBILSTM-AM</text><line x1="318.8" y1="329.2" x2="327.5" y2="329.2" stroke="#5aa05a" stroke-width="1.1" stroke-dasharray="2,1.3"/><text x="329.5" y="330.9" font-size="5.5" fill="#000" stroke="#000" stroke-width="0.26">FCM-CNN-WNN-WBILSTM-AM (Adagrad)</text><line x1="318.8" y1="336.2" x2="327.5" y2="336.2" stroke="#b85068" stroke-width="1.1" stroke-dasharray="2,1.3"/><text x="329.5" y="337.9" font-size="5.5" fill="#000" stroke="#000" stroke-width="0.26">FCM-CNN-WNN-WBILSTM-AM (RMSProp)</text><line x1="318.8" y1="343.2" x2="327.5" y2="343.2" stroke="#333" stroke-width="1.3"/><text x="329.5" y="344.9" font-size="5.5" fill="#000" stroke="#000" stroke-width="0.26">True</text><text transform="translate(273.9,306.9) rotate(-90)" font-size="6.2" text-anchor="middle" fill="#000" stroke="#000" stroke-width="0.26">SOH</text><text x="400" y="385.3" font-size="6.45" text-anchor="middle" fill="#000" stroke="#000" stroke-width="0.26">Discharge Cycles</text><text x="270.5" y="203" font-size="10.4" fill="#000" stroke="#000" stroke-width="0.2">D</text></g>
</svg></body></html>
